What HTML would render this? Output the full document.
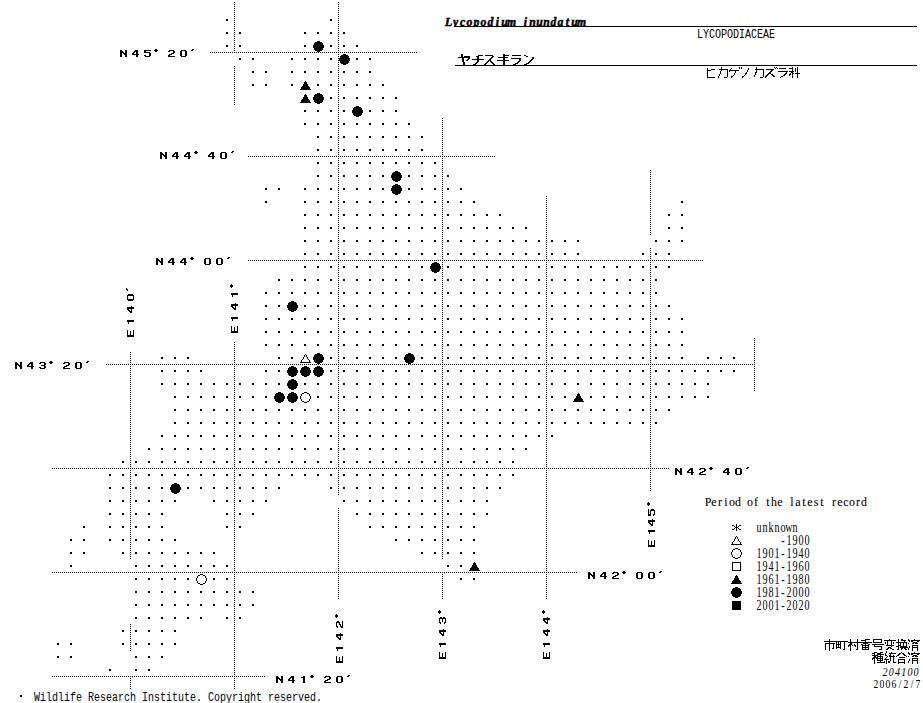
<!DOCTYPE html>
<html><head><meta charset="utf-8"><style>
html,body{margin:0;padding:0;background:#fff;overflow:hidden;width:923px;height:703px;}
svg{display:block;}

</style></head><body>
<svg width="923" height="703" viewBox="0 0 923 703" shape-rendering="crispEdges">
<rect width="923" height="703" fill="#fff"/>
<path d="M210 52h1v1h-1zM212 52h1v1h-1zM214 52h1v1h-1zM216 52h1v1h-1zM218 52h1v1h-1zM220 52h1v1h-1zM222 52h1v1h-1zM224 52h1v1h-1zM226 52h1v1h-1zM228 52h1v1h-1zM230 52h1v1h-1zM232 52h1v1h-1zM234 52h1v1h-1zM236 52h1v1h-1zM238 52h1v1h-1zM240 52h1v1h-1zM242 52h1v1h-1zM244 52h1v1h-1zM246 52h1v1h-1zM248 52h1v1h-1zM250 52h1v1h-1zM252 52h1v1h-1zM254 52h1v1h-1zM256 52h1v1h-1zM258 52h1v1h-1zM260 52h1v1h-1zM262 52h1v1h-1zM264 52h1v1h-1zM266 52h1v1h-1zM268 52h1v1h-1zM270 52h1v1h-1zM272 52h1v1h-1zM274 52h1v1h-1zM276 52h1v1h-1zM278 52h1v1h-1zM280 52h1v1h-1zM282 52h1v1h-1zM284 52h1v1h-1zM286 52h1v1h-1zM288 52h1v1h-1zM290 52h1v1h-1zM292 52h1v1h-1zM294 52h1v1h-1zM296 52h1v1h-1zM298 52h1v1h-1zM300 52h1v1h-1zM302 52h1v1h-1zM304 52h1v1h-1zM306 52h1v1h-1zM308 52h1v1h-1zM310 52h1v1h-1zM312 52h1v1h-1zM314 52h1v1h-1zM316 52h1v1h-1zM318 52h1v1h-1zM320 52h1v1h-1zM322 52h1v1h-1zM324 52h1v1h-1zM326 52h1v1h-1zM328 52h1v1h-1zM330 52h1v1h-1zM332 52h1v1h-1zM334 52h1v1h-1zM336 52h1v1h-1zM338 52h1v1h-1zM340 52h1v1h-1zM342 52h1v1h-1zM344 52h1v1h-1zM346 52h1v1h-1zM348 52h1v1h-1zM350 52h1v1h-1zM352 52h1v1h-1zM354 52h1v1h-1zM356 52h1v1h-1zM358 52h1v1h-1zM360 52h1v1h-1zM362 52h1v1h-1zM364 52h1v1h-1zM366 52h1v1h-1zM368 52h1v1h-1zM370 52h1v1h-1zM372 52h1v1h-1zM374 52h1v1h-1zM376 52h1v1h-1zM378 52h1v1h-1zM380 52h1v1h-1zM382 52h1v1h-1zM384 52h1v1h-1zM386 52h1v1h-1zM388 52h1v1h-1zM390 52h1v1h-1zM392 52h1v1h-1zM394 52h1v1h-1zM396 52h1v1h-1zM398 52h1v1h-1zM400 52h1v1h-1zM402 52h1v1h-1zM404 52h1v1h-1zM406 52h1v1h-1zM408 52h1v1h-1zM410 52h1v1h-1zM412 52h1v1h-1zM414 52h1v1h-1zM416 52h1v1h-1zM248 156h1v1h-1zM250 156h1v1h-1zM252 156h1v1h-1zM254 156h1v1h-1zM256 156h1v1h-1zM258 156h1v1h-1zM260 156h1v1h-1zM262 156h1v1h-1zM264 156h1v1h-1zM266 156h1v1h-1zM268 156h1v1h-1zM270 156h1v1h-1zM272 156h1v1h-1zM274 156h1v1h-1zM276 156h1v1h-1zM278 156h1v1h-1zM280 156h1v1h-1zM282 156h1v1h-1zM284 156h1v1h-1zM286 156h1v1h-1zM288 156h1v1h-1zM290 156h1v1h-1zM292 156h1v1h-1zM294 156h1v1h-1zM296 156h1v1h-1zM298 156h1v1h-1zM300 156h1v1h-1zM302 156h1v1h-1zM304 156h1v1h-1zM306 156h1v1h-1zM308 156h1v1h-1zM310 156h1v1h-1zM312 156h1v1h-1zM314 156h1v1h-1zM316 156h1v1h-1zM318 156h1v1h-1zM320 156h1v1h-1zM322 156h1v1h-1zM324 156h1v1h-1zM326 156h1v1h-1zM328 156h1v1h-1zM330 156h1v1h-1zM332 156h1v1h-1zM334 156h1v1h-1zM336 156h1v1h-1zM338 156h1v1h-1zM340 156h1v1h-1zM342 156h1v1h-1zM344 156h1v1h-1zM346 156h1v1h-1zM348 156h1v1h-1zM350 156h1v1h-1zM352 156h1v1h-1zM354 156h1v1h-1zM356 156h1v1h-1zM358 156h1v1h-1zM360 156h1v1h-1zM362 156h1v1h-1zM364 156h1v1h-1zM366 156h1v1h-1zM368 156h1v1h-1zM370 156h1v1h-1zM372 156h1v1h-1zM374 156h1v1h-1zM376 156h1v1h-1zM378 156h1v1h-1zM380 156h1v1h-1zM382 156h1v1h-1zM384 156h1v1h-1zM386 156h1v1h-1zM388 156h1v1h-1zM390 156h1v1h-1zM392 156h1v1h-1zM394 156h1v1h-1zM396 156h1v1h-1zM398 156h1v1h-1zM400 156h1v1h-1zM402 156h1v1h-1zM404 156h1v1h-1zM406 156h1v1h-1zM408 156h1v1h-1zM410 156h1v1h-1zM412 156h1v1h-1zM414 156h1v1h-1zM416 156h1v1h-1zM418 156h1v1h-1zM420 156h1v1h-1zM422 156h1v1h-1zM424 156h1v1h-1zM426 156h1v1h-1zM428 156h1v1h-1zM430 156h1v1h-1zM432 156h1v1h-1zM434 156h1v1h-1zM436 156h1v1h-1zM438 156h1v1h-1zM440 156h1v1h-1zM442 156h1v1h-1zM444 156h1v1h-1zM446 156h1v1h-1zM448 156h1v1h-1zM450 156h1v1h-1zM452 156h1v1h-1zM454 156h1v1h-1zM456 156h1v1h-1zM458 156h1v1h-1zM460 156h1v1h-1zM462 156h1v1h-1zM464 156h1v1h-1zM466 156h1v1h-1zM468 156h1v1h-1zM470 156h1v1h-1zM472 156h1v1h-1zM474 156h1v1h-1zM476 156h1v1h-1zM478 156h1v1h-1zM480 156h1v1h-1zM482 156h1v1h-1zM484 156h1v1h-1zM486 156h1v1h-1zM488 156h1v1h-1zM490 156h1v1h-1zM492 156h1v1h-1zM494 156h1v1h-1zM248 260h1v1h-1zM250 260h1v1h-1zM252 260h1v1h-1zM254 260h1v1h-1zM256 260h1v1h-1zM258 260h1v1h-1zM260 260h1v1h-1zM262 260h1v1h-1zM264 260h1v1h-1zM266 260h1v1h-1zM268 260h1v1h-1zM270 260h1v1h-1zM272 260h1v1h-1zM274 260h1v1h-1zM276 260h1v1h-1zM278 260h1v1h-1zM280 260h1v1h-1zM282 260h1v1h-1zM284 260h1v1h-1zM286 260h1v1h-1zM288 260h1v1h-1zM290 260h1v1h-1zM292 260h1v1h-1zM294 260h1v1h-1zM296 260h1v1h-1zM298 260h1v1h-1zM300 260h1v1h-1zM302 260h1v1h-1zM304 260h1v1h-1zM306 260h1v1h-1zM308 260h1v1h-1zM310 260h1v1h-1zM312 260h1v1h-1zM314 260h1v1h-1zM316 260h1v1h-1zM318 260h1v1h-1zM320 260h1v1h-1zM322 260h1v1h-1zM324 260h1v1h-1zM326 260h1v1h-1zM328 260h1v1h-1zM330 260h1v1h-1zM332 260h1v1h-1zM334 260h1v1h-1zM336 260h1v1h-1zM338 260h1v1h-1zM340 260h1v1h-1zM342 260h1v1h-1zM344 260h1v1h-1zM346 260h1v1h-1zM348 260h1v1h-1zM350 260h1v1h-1zM352 260h1v1h-1zM354 260h1v1h-1zM356 260h1v1h-1zM358 260h1v1h-1zM360 260h1v1h-1zM362 260h1v1h-1zM364 260h1v1h-1zM366 260h1v1h-1zM368 260h1v1h-1zM370 260h1v1h-1zM372 260h1v1h-1zM374 260h1v1h-1zM376 260h1v1h-1zM378 260h1v1h-1zM380 260h1v1h-1zM382 260h1v1h-1zM384 260h1v1h-1zM386 260h1v1h-1zM388 260h1v1h-1zM390 260h1v1h-1zM392 260h1v1h-1zM394 260h1v1h-1zM396 260h1v1h-1zM398 260h1v1h-1zM400 260h1v1h-1zM402 260h1v1h-1zM404 260h1v1h-1zM406 260h1v1h-1zM408 260h1v1h-1zM410 260h1v1h-1zM412 260h1v1h-1zM414 260h1v1h-1zM416 260h1v1h-1zM418 260h1v1h-1zM420 260h1v1h-1zM422 260h1v1h-1zM424 260h1v1h-1zM426 260h1v1h-1zM428 260h1v1h-1zM430 260h1v1h-1zM432 260h1v1h-1zM434 260h1v1h-1zM436 260h1v1h-1zM438 260h1v1h-1zM440 260h1v1h-1zM442 260h1v1h-1zM444 260h1v1h-1zM446 260h1v1h-1zM448 260h1v1h-1zM450 260h1v1h-1zM452 260h1v1h-1zM454 260h1v1h-1zM456 260h1v1h-1zM458 260h1v1h-1zM460 260h1v1h-1zM462 260h1v1h-1zM464 260h1v1h-1zM466 260h1v1h-1zM468 260h1v1h-1zM470 260h1v1h-1zM472 260h1v1h-1zM474 260h1v1h-1zM476 260h1v1h-1zM478 260h1v1h-1zM480 260h1v1h-1zM482 260h1v1h-1zM484 260h1v1h-1zM486 260h1v1h-1zM488 260h1v1h-1zM490 260h1v1h-1zM492 260h1v1h-1zM494 260h1v1h-1zM496 260h1v1h-1zM498 260h1v1h-1zM500 260h1v1h-1zM502 260h1v1h-1zM504 260h1v1h-1zM506 260h1v1h-1zM508 260h1v1h-1zM510 260h1v1h-1zM512 260h1v1h-1zM514 260h1v1h-1zM516 260h1v1h-1zM518 260h1v1h-1zM520 260h1v1h-1zM522 260h1v1h-1zM524 260h1v1h-1zM526 260h1v1h-1zM528 260h1v1h-1zM530 260h1v1h-1zM532 260h1v1h-1zM534 260h1v1h-1zM536 260h1v1h-1zM538 260h1v1h-1zM540 260h1v1h-1zM542 260h1v1h-1zM544 260h1v1h-1zM546 260h1v1h-1zM548 260h1v1h-1zM550 260h1v1h-1zM552 260h1v1h-1zM554 260h1v1h-1zM556 260h1v1h-1zM558 260h1v1h-1zM560 260h1v1h-1zM562 260h1v1h-1zM564 260h1v1h-1zM566 260h1v1h-1zM568 260h1v1h-1zM570 260h1v1h-1zM572 260h1v1h-1zM574 260h1v1h-1zM576 260h1v1h-1zM578 260h1v1h-1zM580 260h1v1h-1zM582 260h1v1h-1zM584 260h1v1h-1zM586 260h1v1h-1zM588 260h1v1h-1zM590 260h1v1h-1zM592 260h1v1h-1zM594 260h1v1h-1zM596 260h1v1h-1zM598 260h1v1h-1zM600 260h1v1h-1zM602 260h1v1h-1zM604 260h1v1h-1zM606 260h1v1h-1zM608 260h1v1h-1zM610 260h1v1h-1zM612 260h1v1h-1zM614 260h1v1h-1zM616 260h1v1h-1zM618 260h1v1h-1zM620 260h1v1h-1zM622 260h1v1h-1zM624 260h1v1h-1zM626 260h1v1h-1zM628 260h1v1h-1zM630 260h1v1h-1zM632 260h1v1h-1zM634 260h1v1h-1zM636 260h1v1h-1zM638 260h1v1h-1zM640 260h1v1h-1zM642 260h1v1h-1zM644 260h1v1h-1zM646 260h1v1h-1zM648 260h1v1h-1zM650 260h1v1h-1zM652 260h1v1h-1zM654 260h1v1h-1zM656 260h1v1h-1zM658 260h1v1h-1zM660 260h1v1h-1zM662 260h1v1h-1zM664 260h1v1h-1zM666 260h1v1h-1zM668 260h1v1h-1zM670 260h1v1h-1zM672 260h1v1h-1zM674 260h1v1h-1zM676 260h1v1h-1zM678 260h1v1h-1zM680 260h1v1h-1zM682 260h1v1h-1zM684 260h1v1h-1zM686 260h1v1h-1zM688 260h1v1h-1zM690 260h1v1h-1zM692 260h1v1h-1zM694 260h1v1h-1zM696 260h1v1h-1zM698 260h1v1h-1zM700 260h1v1h-1zM702 260h1v1h-1zM106 364h1v1h-1zM108 364h1v1h-1zM110 364h1v1h-1zM112 364h1v1h-1zM114 364h1v1h-1zM116 364h1v1h-1zM118 364h1v1h-1zM120 364h1v1h-1zM122 364h1v1h-1zM124 364h1v1h-1zM126 364h1v1h-1zM128 364h1v1h-1zM130 364h1v1h-1zM132 364h1v1h-1zM134 364h1v1h-1zM136 364h1v1h-1zM138 364h1v1h-1zM140 364h1v1h-1zM142 364h1v1h-1zM144 364h1v1h-1zM146 364h1v1h-1zM148 364h1v1h-1zM150 364h1v1h-1zM152 364h1v1h-1zM154 364h1v1h-1zM156 364h1v1h-1zM158 364h1v1h-1zM160 364h1v1h-1zM162 364h1v1h-1zM164 364h1v1h-1zM166 364h1v1h-1zM168 364h1v1h-1zM170 364h1v1h-1zM172 364h1v1h-1zM174 364h1v1h-1zM176 364h1v1h-1zM178 364h1v1h-1zM180 364h1v1h-1zM182 364h1v1h-1zM184 364h1v1h-1zM186 364h1v1h-1zM188 364h1v1h-1zM190 364h1v1h-1zM192 364h1v1h-1zM194 364h1v1h-1zM196 364h1v1h-1zM198 364h1v1h-1zM200 364h1v1h-1zM202 364h1v1h-1zM204 364h1v1h-1zM206 364h1v1h-1zM208 364h1v1h-1zM210 364h1v1h-1zM212 364h1v1h-1zM214 364h1v1h-1zM216 364h1v1h-1zM218 364h1v1h-1zM220 364h1v1h-1zM222 364h1v1h-1zM224 364h1v1h-1zM226 364h1v1h-1zM228 364h1v1h-1zM230 364h1v1h-1zM232 364h1v1h-1zM234 364h1v1h-1zM236 364h1v1h-1zM238 364h1v1h-1zM240 364h1v1h-1zM242 364h1v1h-1zM244 364h1v1h-1zM246 364h1v1h-1zM248 364h1v1h-1zM250 364h1v1h-1zM252 364h1v1h-1zM254 364h1v1h-1zM256 364h1v1h-1zM258 364h1v1h-1zM260 364h1v1h-1zM262 364h1v1h-1zM264 364h1v1h-1zM266 364h1v1h-1zM268 364h1v1h-1zM270 364h1v1h-1zM272 364h1v1h-1zM274 364h1v1h-1zM276 364h1v1h-1zM278 364h1v1h-1zM280 364h1v1h-1zM282 364h1v1h-1zM284 364h1v1h-1zM286 364h1v1h-1zM288 364h1v1h-1zM290 364h1v1h-1zM292 364h1v1h-1zM294 364h1v1h-1zM296 364h1v1h-1zM298 364h1v1h-1zM300 364h1v1h-1zM302 364h1v1h-1zM304 364h1v1h-1zM306 364h1v1h-1zM308 364h1v1h-1zM310 364h1v1h-1zM312 364h1v1h-1zM314 364h1v1h-1zM316 364h1v1h-1zM318 364h1v1h-1zM320 364h1v1h-1zM322 364h1v1h-1zM324 364h1v1h-1zM326 364h1v1h-1zM328 364h1v1h-1zM330 364h1v1h-1zM332 364h1v1h-1zM334 364h1v1h-1zM336 364h1v1h-1zM338 364h1v1h-1zM340 364h1v1h-1zM342 364h1v1h-1zM344 364h1v1h-1zM346 364h1v1h-1zM348 364h1v1h-1zM350 364h1v1h-1zM352 364h1v1h-1zM354 364h1v1h-1zM356 364h1v1h-1zM358 364h1v1h-1zM360 364h1v1h-1zM362 364h1v1h-1zM364 364h1v1h-1zM366 364h1v1h-1zM368 364h1v1h-1zM370 364h1v1h-1zM372 364h1v1h-1zM374 364h1v1h-1zM376 364h1v1h-1zM378 364h1v1h-1zM380 364h1v1h-1zM382 364h1v1h-1zM384 364h1v1h-1zM386 364h1v1h-1zM388 364h1v1h-1zM390 364h1v1h-1zM392 364h1v1h-1zM394 364h1v1h-1zM396 364h1v1h-1zM398 364h1v1h-1zM400 364h1v1h-1zM402 364h1v1h-1zM404 364h1v1h-1zM406 364h1v1h-1zM408 364h1v1h-1zM410 364h1v1h-1zM412 364h1v1h-1zM414 364h1v1h-1zM416 364h1v1h-1zM418 364h1v1h-1zM420 364h1v1h-1zM422 364h1v1h-1zM424 364h1v1h-1zM426 364h1v1h-1zM428 364h1v1h-1zM430 364h1v1h-1zM432 364h1v1h-1zM434 364h1v1h-1zM436 364h1v1h-1zM438 364h1v1h-1zM440 364h1v1h-1zM442 364h1v1h-1zM444 364h1v1h-1zM446 364h1v1h-1zM448 364h1v1h-1zM450 364h1v1h-1zM452 364h1v1h-1zM454 364h1v1h-1zM456 364h1v1h-1zM458 364h1v1h-1zM460 364h1v1h-1zM462 364h1v1h-1zM464 364h1v1h-1zM466 364h1v1h-1zM468 364h1v1h-1zM470 364h1v1h-1zM472 364h1v1h-1zM474 364h1v1h-1zM476 364h1v1h-1zM478 364h1v1h-1zM480 364h1v1h-1zM482 364h1v1h-1zM484 364h1v1h-1zM486 364h1v1h-1zM488 364h1v1h-1zM490 364h1v1h-1zM492 364h1v1h-1zM494 364h1v1h-1zM496 364h1v1h-1zM498 364h1v1h-1zM500 364h1v1h-1zM502 364h1v1h-1zM504 364h1v1h-1zM506 364h1v1h-1zM508 364h1v1h-1zM510 364h1v1h-1zM512 364h1v1h-1zM514 364h1v1h-1zM516 364h1v1h-1zM518 364h1v1h-1zM520 364h1v1h-1zM522 364h1v1h-1zM524 364h1v1h-1zM526 364h1v1h-1zM528 364h1v1h-1zM530 364h1v1h-1zM532 364h1v1h-1zM534 364h1v1h-1zM536 364h1v1h-1zM538 364h1v1h-1zM540 364h1v1h-1zM542 364h1v1h-1zM544 364h1v1h-1zM546 364h1v1h-1zM548 364h1v1h-1zM550 364h1v1h-1zM552 364h1v1h-1zM554 364h1v1h-1zM556 364h1v1h-1zM558 364h1v1h-1zM560 364h1v1h-1zM562 364h1v1h-1zM564 364h1v1h-1zM566 364h1v1h-1zM568 364h1v1h-1zM570 364h1v1h-1zM572 364h1v1h-1zM574 364h1v1h-1zM576 364h1v1h-1zM578 364h1v1h-1zM580 364h1v1h-1zM582 364h1v1h-1zM584 364h1v1h-1zM586 364h1v1h-1zM588 364h1v1h-1zM590 364h1v1h-1zM592 364h1v1h-1zM594 364h1v1h-1zM596 364h1v1h-1zM598 364h1v1h-1zM600 364h1v1h-1zM602 364h1v1h-1zM604 364h1v1h-1zM606 364h1v1h-1zM608 364h1v1h-1zM610 364h1v1h-1zM612 364h1v1h-1zM614 364h1v1h-1zM616 364h1v1h-1zM618 364h1v1h-1zM620 364h1v1h-1zM622 364h1v1h-1zM624 364h1v1h-1zM626 364h1v1h-1zM628 364h1v1h-1zM630 364h1v1h-1zM632 364h1v1h-1zM634 364h1v1h-1zM636 364h1v1h-1zM638 364h1v1h-1zM640 364h1v1h-1zM642 364h1v1h-1zM644 364h1v1h-1zM646 364h1v1h-1zM648 364h1v1h-1zM650 364h1v1h-1zM652 364h1v1h-1zM654 364h1v1h-1zM656 364h1v1h-1zM658 364h1v1h-1zM660 364h1v1h-1zM662 364h1v1h-1zM664 364h1v1h-1zM666 364h1v1h-1zM668 364h1v1h-1zM670 364h1v1h-1zM672 364h1v1h-1zM674 364h1v1h-1zM676 364h1v1h-1zM678 364h1v1h-1zM680 364h1v1h-1zM682 364h1v1h-1zM684 364h1v1h-1zM686 364h1v1h-1zM688 364h1v1h-1zM690 364h1v1h-1zM692 364h1v1h-1zM694 364h1v1h-1zM696 364h1v1h-1zM698 364h1v1h-1zM700 364h1v1h-1zM702 364h1v1h-1zM704 364h1v1h-1zM706 364h1v1h-1zM708 364h1v1h-1zM710 364h1v1h-1zM712 364h1v1h-1zM714 364h1v1h-1zM716 364h1v1h-1zM718 364h1v1h-1zM720 364h1v1h-1zM722 364h1v1h-1zM724 364h1v1h-1zM726 364h1v1h-1zM728 364h1v1h-1zM730 364h1v1h-1zM732 364h1v1h-1zM734 364h1v1h-1zM736 364h1v1h-1zM738 364h1v1h-1zM740 364h1v1h-1zM742 364h1v1h-1zM744 364h1v1h-1zM746 364h1v1h-1zM748 364h1v1h-1zM750 364h1v1h-1zM752 364h1v1h-1zM754 364h1v1h-1zM52 468h1v1h-1zM54 468h1v1h-1zM56 468h1v1h-1zM58 468h1v1h-1zM60 468h1v1h-1zM62 468h1v1h-1zM64 468h1v1h-1zM66 468h1v1h-1zM68 468h1v1h-1zM70 468h1v1h-1zM72 468h1v1h-1zM74 468h1v1h-1zM76 468h1v1h-1zM78 468h1v1h-1zM80 468h1v1h-1zM82 468h1v1h-1zM84 468h1v1h-1zM86 468h1v1h-1zM88 468h1v1h-1zM90 468h1v1h-1zM92 468h1v1h-1zM94 468h1v1h-1zM96 468h1v1h-1zM98 468h1v1h-1zM100 468h1v1h-1zM102 468h1v1h-1zM104 468h1v1h-1zM106 468h1v1h-1zM108 468h1v1h-1zM110 468h1v1h-1zM112 468h1v1h-1zM114 468h1v1h-1zM116 468h1v1h-1zM118 468h1v1h-1zM120 468h1v1h-1zM122 468h1v1h-1zM124 468h1v1h-1zM126 468h1v1h-1zM128 468h1v1h-1zM130 468h1v1h-1zM132 468h1v1h-1zM134 468h1v1h-1zM136 468h1v1h-1zM138 468h1v1h-1zM140 468h1v1h-1zM142 468h1v1h-1zM144 468h1v1h-1zM146 468h1v1h-1zM148 468h1v1h-1zM150 468h1v1h-1zM152 468h1v1h-1zM154 468h1v1h-1zM156 468h1v1h-1zM158 468h1v1h-1zM160 468h1v1h-1zM162 468h1v1h-1zM164 468h1v1h-1zM166 468h1v1h-1zM168 468h1v1h-1zM170 468h1v1h-1zM172 468h1v1h-1zM174 468h1v1h-1zM176 468h1v1h-1zM178 468h1v1h-1zM180 468h1v1h-1zM182 468h1v1h-1zM184 468h1v1h-1zM186 468h1v1h-1zM188 468h1v1h-1zM190 468h1v1h-1zM192 468h1v1h-1zM194 468h1v1h-1zM196 468h1v1h-1zM198 468h1v1h-1zM200 468h1v1h-1zM202 468h1v1h-1zM204 468h1v1h-1zM206 468h1v1h-1zM208 468h1v1h-1zM210 468h1v1h-1zM212 468h1v1h-1zM214 468h1v1h-1zM216 468h1v1h-1zM218 468h1v1h-1zM220 468h1v1h-1zM222 468h1v1h-1zM224 468h1v1h-1zM226 468h1v1h-1zM228 468h1v1h-1zM230 468h1v1h-1zM232 468h1v1h-1zM234 468h1v1h-1zM236 468h1v1h-1zM238 468h1v1h-1zM240 468h1v1h-1zM242 468h1v1h-1zM244 468h1v1h-1zM246 468h1v1h-1zM248 468h1v1h-1zM250 468h1v1h-1zM252 468h1v1h-1zM254 468h1v1h-1zM256 468h1v1h-1zM258 468h1v1h-1zM260 468h1v1h-1zM262 468h1v1h-1zM264 468h1v1h-1zM266 468h1v1h-1zM268 468h1v1h-1zM270 468h1v1h-1zM272 468h1v1h-1zM274 468h1v1h-1zM276 468h1v1h-1zM278 468h1v1h-1zM280 468h1v1h-1zM282 468h1v1h-1zM284 468h1v1h-1zM286 468h1v1h-1zM288 468h1v1h-1zM290 468h1v1h-1zM292 468h1v1h-1zM294 468h1v1h-1zM296 468h1v1h-1zM298 468h1v1h-1zM300 468h1v1h-1zM302 468h1v1h-1zM304 468h1v1h-1zM306 468h1v1h-1zM308 468h1v1h-1zM310 468h1v1h-1zM312 468h1v1h-1zM314 468h1v1h-1zM316 468h1v1h-1zM318 468h1v1h-1zM320 468h1v1h-1zM322 468h1v1h-1zM324 468h1v1h-1zM326 468h1v1h-1zM328 468h1v1h-1zM330 468h1v1h-1zM332 468h1v1h-1zM334 468h1v1h-1zM336 468h1v1h-1zM338 468h1v1h-1zM340 468h1v1h-1zM342 468h1v1h-1zM344 468h1v1h-1zM346 468h1v1h-1zM348 468h1v1h-1zM350 468h1v1h-1zM352 468h1v1h-1zM354 468h1v1h-1zM356 468h1v1h-1zM358 468h1v1h-1zM360 468h1v1h-1zM362 468h1v1h-1zM364 468h1v1h-1zM366 468h1v1h-1zM368 468h1v1h-1zM370 468h1v1h-1zM372 468h1v1h-1zM374 468h1v1h-1zM376 468h1v1h-1zM378 468h1v1h-1zM380 468h1v1h-1zM382 468h1v1h-1zM384 468h1v1h-1zM386 468h1v1h-1zM388 468h1v1h-1zM390 468h1v1h-1zM392 468h1v1h-1zM394 468h1v1h-1zM396 468h1v1h-1zM398 468h1v1h-1zM400 468h1v1h-1zM402 468h1v1h-1zM404 468h1v1h-1zM406 468h1v1h-1zM408 468h1v1h-1zM410 468h1v1h-1zM412 468h1v1h-1zM414 468h1v1h-1zM416 468h1v1h-1zM418 468h1v1h-1zM420 468h1v1h-1zM422 468h1v1h-1zM424 468h1v1h-1zM426 468h1v1h-1zM428 468h1v1h-1zM430 468h1v1h-1zM432 468h1v1h-1zM434 468h1v1h-1zM436 468h1v1h-1zM438 468h1v1h-1zM440 468h1v1h-1zM442 468h1v1h-1zM444 468h1v1h-1zM446 468h1v1h-1zM448 468h1v1h-1zM450 468h1v1h-1zM452 468h1v1h-1zM454 468h1v1h-1zM456 468h1v1h-1zM458 468h1v1h-1zM460 468h1v1h-1zM462 468h1v1h-1zM464 468h1v1h-1zM466 468h1v1h-1zM468 468h1v1h-1zM470 468h1v1h-1zM472 468h1v1h-1zM474 468h1v1h-1zM476 468h1v1h-1zM478 468h1v1h-1zM480 468h1v1h-1zM482 468h1v1h-1zM484 468h1v1h-1zM486 468h1v1h-1zM488 468h1v1h-1zM490 468h1v1h-1zM492 468h1v1h-1zM494 468h1v1h-1zM496 468h1v1h-1zM498 468h1v1h-1zM500 468h1v1h-1zM502 468h1v1h-1zM504 468h1v1h-1zM506 468h1v1h-1zM508 468h1v1h-1zM510 468h1v1h-1zM512 468h1v1h-1zM514 468h1v1h-1zM516 468h1v1h-1zM518 468h1v1h-1zM520 468h1v1h-1zM522 468h1v1h-1zM524 468h1v1h-1zM526 468h1v1h-1zM528 468h1v1h-1zM530 468h1v1h-1zM532 468h1v1h-1zM534 468h1v1h-1zM536 468h1v1h-1zM538 468h1v1h-1zM540 468h1v1h-1zM542 468h1v1h-1zM544 468h1v1h-1zM546 468h1v1h-1zM548 468h1v1h-1zM550 468h1v1h-1zM552 468h1v1h-1zM554 468h1v1h-1zM556 468h1v1h-1zM558 468h1v1h-1zM560 468h1v1h-1zM562 468h1v1h-1zM564 468h1v1h-1zM566 468h1v1h-1zM568 468h1v1h-1zM570 468h1v1h-1zM572 468h1v1h-1zM574 468h1v1h-1zM576 468h1v1h-1zM578 468h1v1h-1zM580 468h1v1h-1zM582 468h1v1h-1zM584 468h1v1h-1zM586 468h1v1h-1zM588 468h1v1h-1zM590 468h1v1h-1zM592 468h1v1h-1zM594 468h1v1h-1zM596 468h1v1h-1zM598 468h1v1h-1zM600 468h1v1h-1zM602 468h1v1h-1zM604 468h1v1h-1zM606 468h1v1h-1zM608 468h1v1h-1zM610 468h1v1h-1zM612 468h1v1h-1zM614 468h1v1h-1zM616 468h1v1h-1zM618 468h1v1h-1zM620 468h1v1h-1zM622 468h1v1h-1zM624 468h1v1h-1zM626 468h1v1h-1zM628 468h1v1h-1zM630 468h1v1h-1zM632 468h1v1h-1zM634 468h1v1h-1zM636 468h1v1h-1zM638 468h1v1h-1zM640 468h1v1h-1zM642 468h1v1h-1zM644 468h1v1h-1zM646 468h1v1h-1zM648 468h1v1h-1zM650 468h1v1h-1zM652 468h1v1h-1zM654 468h1v1h-1zM656 468h1v1h-1zM658 468h1v1h-1zM660 468h1v1h-1zM662 468h1v1h-1zM664 468h1v1h-1zM666 468h1v1h-1zM668 468h1v1h-1zM52 572h1v1h-1zM54 572h1v1h-1zM56 572h1v1h-1zM58 572h1v1h-1zM60 572h1v1h-1zM62 572h1v1h-1zM64 572h1v1h-1zM66 572h1v1h-1zM68 572h1v1h-1zM70 572h1v1h-1zM72 572h1v1h-1zM74 572h1v1h-1zM76 572h1v1h-1zM78 572h1v1h-1zM80 572h1v1h-1zM82 572h1v1h-1zM84 572h1v1h-1zM86 572h1v1h-1zM88 572h1v1h-1zM90 572h1v1h-1zM92 572h1v1h-1zM94 572h1v1h-1zM96 572h1v1h-1zM98 572h1v1h-1zM100 572h1v1h-1zM102 572h1v1h-1zM104 572h1v1h-1zM106 572h1v1h-1zM108 572h1v1h-1zM110 572h1v1h-1zM112 572h1v1h-1zM114 572h1v1h-1zM116 572h1v1h-1zM118 572h1v1h-1zM120 572h1v1h-1zM122 572h1v1h-1zM124 572h1v1h-1zM126 572h1v1h-1zM128 572h1v1h-1zM130 572h1v1h-1zM132 572h1v1h-1zM134 572h1v1h-1zM136 572h1v1h-1zM138 572h1v1h-1zM140 572h1v1h-1zM142 572h1v1h-1zM144 572h1v1h-1zM146 572h1v1h-1zM148 572h1v1h-1zM150 572h1v1h-1zM152 572h1v1h-1zM154 572h1v1h-1zM156 572h1v1h-1zM158 572h1v1h-1zM160 572h1v1h-1zM162 572h1v1h-1zM164 572h1v1h-1zM166 572h1v1h-1zM168 572h1v1h-1zM170 572h1v1h-1zM172 572h1v1h-1zM174 572h1v1h-1zM176 572h1v1h-1zM178 572h1v1h-1zM180 572h1v1h-1zM182 572h1v1h-1zM184 572h1v1h-1zM186 572h1v1h-1zM188 572h1v1h-1zM190 572h1v1h-1zM192 572h1v1h-1zM194 572h1v1h-1zM196 572h1v1h-1zM198 572h1v1h-1zM200 572h1v1h-1zM202 572h1v1h-1zM204 572h1v1h-1zM206 572h1v1h-1zM208 572h1v1h-1zM210 572h1v1h-1zM212 572h1v1h-1zM214 572h1v1h-1zM216 572h1v1h-1zM218 572h1v1h-1zM220 572h1v1h-1zM222 572h1v1h-1zM224 572h1v1h-1zM226 572h1v1h-1zM228 572h1v1h-1zM230 572h1v1h-1zM232 572h1v1h-1zM234 572h1v1h-1zM236 572h1v1h-1zM238 572h1v1h-1zM240 572h1v1h-1zM242 572h1v1h-1zM244 572h1v1h-1zM246 572h1v1h-1zM248 572h1v1h-1zM250 572h1v1h-1zM252 572h1v1h-1zM254 572h1v1h-1zM256 572h1v1h-1zM258 572h1v1h-1zM260 572h1v1h-1zM262 572h1v1h-1zM264 572h1v1h-1zM266 572h1v1h-1zM268 572h1v1h-1zM270 572h1v1h-1zM272 572h1v1h-1zM274 572h1v1h-1zM276 572h1v1h-1zM278 572h1v1h-1zM280 572h1v1h-1zM282 572h1v1h-1zM284 572h1v1h-1zM286 572h1v1h-1zM288 572h1v1h-1zM290 572h1v1h-1zM292 572h1v1h-1zM294 572h1v1h-1zM296 572h1v1h-1zM298 572h1v1h-1zM300 572h1v1h-1zM302 572h1v1h-1zM304 572h1v1h-1zM306 572h1v1h-1zM308 572h1v1h-1zM310 572h1v1h-1zM312 572h1v1h-1zM314 572h1v1h-1zM316 572h1v1h-1zM318 572h1v1h-1zM320 572h1v1h-1zM322 572h1v1h-1zM324 572h1v1h-1zM326 572h1v1h-1zM328 572h1v1h-1zM330 572h1v1h-1zM332 572h1v1h-1zM334 572h1v1h-1zM336 572h1v1h-1zM338 572h1v1h-1zM340 572h1v1h-1zM342 572h1v1h-1zM344 572h1v1h-1zM346 572h1v1h-1zM348 572h1v1h-1zM350 572h1v1h-1zM352 572h1v1h-1zM354 572h1v1h-1zM356 572h1v1h-1zM358 572h1v1h-1zM360 572h1v1h-1zM362 572h1v1h-1zM364 572h1v1h-1zM366 572h1v1h-1zM368 572h1v1h-1zM370 572h1v1h-1zM372 572h1v1h-1zM374 572h1v1h-1zM376 572h1v1h-1zM378 572h1v1h-1zM380 572h1v1h-1zM382 572h1v1h-1zM384 572h1v1h-1zM386 572h1v1h-1zM388 572h1v1h-1zM390 572h1v1h-1zM392 572h1v1h-1zM394 572h1v1h-1zM396 572h1v1h-1zM398 572h1v1h-1zM400 572h1v1h-1zM402 572h1v1h-1zM404 572h1v1h-1zM406 572h1v1h-1zM408 572h1v1h-1zM410 572h1v1h-1zM412 572h1v1h-1zM414 572h1v1h-1zM416 572h1v1h-1zM418 572h1v1h-1zM420 572h1v1h-1zM422 572h1v1h-1zM424 572h1v1h-1zM426 572h1v1h-1zM428 572h1v1h-1zM430 572h1v1h-1zM432 572h1v1h-1zM434 572h1v1h-1zM436 572h1v1h-1zM438 572h1v1h-1zM440 572h1v1h-1zM442 572h1v1h-1zM444 572h1v1h-1zM446 572h1v1h-1zM448 572h1v1h-1zM450 572h1v1h-1zM452 572h1v1h-1zM454 572h1v1h-1zM456 572h1v1h-1zM458 572h1v1h-1zM460 572h1v1h-1zM462 572h1v1h-1zM464 572h1v1h-1zM466 572h1v1h-1zM468 572h1v1h-1zM470 572h1v1h-1zM472 572h1v1h-1zM474 572h1v1h-1zM476 572h1v1h-1zM478 572h1v1h-1zM480 572h1v1h-1zM482 572h1v1h-1zM484 572h1v1h-1zM486 572h1v1h-1zM488 572h1v1h-1zM490 572h1v1h-1zM492 572h1v1h-1zM494 572h1v1h-1zM496 572h1v1h-1zM498 572h1v1h-1zM500 572h1v1h-1zM502 572h1v1h-1zM504 572h1v1h-1zM506 572h1v1h-1zM508 572h1v1h-1zM510 572h1v1h-1zM512 572h1v1h-1zM514 572h1v1h-1zM516 572h1v1h-1zM518 572h1v1h-1zM520 572h1v1h-1zM522 572h1v1h-1zM524 572h1v1h-1zM526 572h1v1h-1zM528 572h1v1h-1zM530 572h1v1h-1zM532 572h1v1h-1zM534 572h1v1h-1zM536 572h1v1h-1zM538 572h1v1h-1zM540 572h1v1h-1zM542 572h1v1h-1zM544 572h1v1h-1zM546 572h1v1h-1zM548 572h1v1h-1zM550 572h1v1h-1zM552 572h1v1h-1zM554 572h1v1h-1zM556 572h1v1h-1zM558 572h1v1h-1zM560 572h1v1h-1zM562 572h1v1h-1zM564 572h1v1h-1zM566 572h1v1h-1zM568 572h1v1h-1zM570 572h1v1h-1zM572 572h1v1h-1zM574 572h1v1h-1zM576 572h1v1h-1zM52 676h1v1h-1zM54 676h1v1h-1zM56 676h1v1h-1zM58 676h1v1h-1zM60 676h1v1h-1zM62 676h1v1h-1zM64 676h1v1h-1zM66 676h1v1h-1zM68 676h1v1h-1zM70 676h1v1h-1zM72 676h1v1h-1zM74 676h1v1h-1zM76 676h1v1h-1zM78 676h1v1h-1zM80 676h1v1h-1zM82 676h1v1h-1zM84 676h1v1h-1zM86 676h1v1h-1zM88 676h1v1h-1zM90 676h1v1h-1zM92 676h1v1h-1zM94 676h1v1h-1zM96 676h1v1h-1zM98 676h1v1h-1zM100 676h1v1h-1zM102 676h1v1h-1zM104 676h1v1h-1zM106 676h1v1h-1zM108 676h1v1h-1zM110 676h1v1h-1zM112 676h1v1h-1zM114 676h1v1h-1zM116 676h1v1h-1zM118 676h1v1h-1zM120 676h1v1h-1zM122 676h1v1h-1zM124 676h1v1h-1zM126 676h1v1h-1zM128 676h1v1h-1zM130 676h1v1h-1zM132 676h1v1h-1zM134 676h1v1h-1zM136 676h1v1h-1zM138 676h1v1h-1zM140 676h1v1h-1zM142 676h1v1h-1zM144 676h1v1h-1zM146 676h1v1h-1zM148 676h1v1h-1zM150 676h1v1h-1zM152 676h1v1h-1zM154 676h1v1h-1zM156 676h1v1h-1zM158 676h1v1h-1zM160 676h1v1h-1zM162 676h1v1h-1zM164 676h1v1h-1zM166 676h1v1h-1zM168 676h1v1h-1zM170 676h1v1h-1zM172 676h1v1h-1zM174 676h1v1h-1zM176 676h1v1h-1zM178 676h1v1h-1zM180 676h1v1h-1zM182 676h1v1h-1zM184 676h1v1h-1zM186 676h1v1h-1zM188 676h1v1h-1zM190 676h1v1h-1zM192 676h1v1h-1zM194 676h1v1h-1zM196 676h1v1h-1zM198 676h1v1h-1zM200 676h1v1h-1zM202 676h1v1h-1zM204 676h1v1h-1zM206 676h1v1h-1zM208 676h1v1h-1zM210 676h1v1h-1zM212 676h1v1h-1zM214 676h1v1h-1zM216 676h1v1h-1zM218 676h1v1h-1zM220 676h1v1h-1zM222 676h1v1h-1zM224 676h1v1h-1zM226 676h1v1h-1zM228 676h1v1h-1zM230 676h1v1h-1zM232 676h1v1h-1zM234 676h1v1h-1zM236 676h1v1h-1zM238 676h1v1h-1zM240 676h1v1h-1zM242 676h1v1h-1zM244 676h1v1h-1zM246 676h1v1h-1zM248 676h1v1h-1zM250 676h1v1h-1zM252 676h1v1h-1zM254 676h1v1h-1zM256 676h1v1h-1zM258 676h1v1h-1zM260 676h1v1h-1zM262 676h1v1h-1zM264 676h1v1h-1zM130 352h1v1h-1zM130 354h1v1h-1zM130 356h1v1h-1zM130 358h1v1h-1zM130 360h1v1h-1zM130 362h1v1h-1zM130 364h1v1h-1zM130 366h1v1h-1zM130 368h1v1h-1zM130 370h1v1h-1zM130 372h1v1h-1zM130 374h1v1h-1zM130 376h1v1h-1zM130 378h1v1h-1zM130 380h1v1h-1zM130 382h1v1h-1zM130 384h1v1h-1zM130 386h1v1h-1zM130 388h1v1h-1zM130 390h1v1h-1zM130 392h1v1h-1zM130 394h1v1h-1zM130 396h1v1h-1zM130 398h1v1h-1zM130 400h1v1h-1zM130 402h1v1h-1zM130 404h1v1h-1zM130 406h1v1h-1zM130 408h1v1h-1zM130 410h1v1h-1zM130 412h1v1h-1zM130 414h1v1h-1zM130 416h1v1h-1zM130 418h1v1h-1zM130 420h1v1h-1zM130 422h1v1h-1zM130 424h1v1h-1zM130 426h1v1h-1zM130 428h1v1h-1zM130 430h1v1h-1zM130 432h1v1h-1zM130 434h1v1h-1zM130 436h1v1h-1zM130 438h1v1h-1zM130 440h1v1h-1zM130 442h1v1h-1zM130 444h1v1h-1zM130 446h1v1h-1zM130 448h1v1h-1zM130 450h1v1h-1zM130 452h1v1h-1zM130 454h1v1h-1zM130 456h1v1h-1zM130 458h1v1h-1zM130 460h1v1h-1zM130 462h1v1h-1zM130 464h1v1h-1zM130 466h1v1h-1zM130 468h1v1h-1zM130 470h1v1h-1zM130 472h1v1h-1zM130 474h1v1h-1zM130 476h1v1h-1zM130 478h1v1h-1zM130 480h1v1h-1zM130 482h1v1h-1zM130 484h1v1h-1zM130 486h1v1h-1zM130 488h1v1h-1zM130 490h1v1h-1zM130 492h1v1h-1zM130 494h1v1h-1zM130 496h1v1h-1zM130 498h1v1h-1zM130 500h1v1h-1zM130 502h1v1h-1zM130 504h1v1h-1zM130 506h1v1h-1zM130 508h1v1h-1zM130 510h1v1h-1zM130 512h1v1h-1zM130 514h1v1h-1zM130 516h1v1h-1zM130 518h1v1h-1zM130 520h1v1h-1zM130 522h1v1h-1zM130 524h1v1h-1zM130 526h1v1h-1zM130 528h1v1h-1zM130 530h1v1h-1zM130 532h1v1h-1zM130 534h1v1h-1zM130 536h1v1h-1zM130 538h1v1h-1zM130 540h1v1h-1zM130 542h1v1h-1zM130 544h1v1h-1zM130 546h1v1h-1zM130 548h1v1h-1zM130 550h1v1h-1zM130 552h1v1h-1zM130 554h1v1h-1zM130 556h1v1h-1zM130 558h1v1h-1zM130 624h1v1h-1zM130 626h1v1h-1zM130 628h1v1h-1zM130 630h1v1h-1zM130 632h1v1h-1zM130 634h1v1h-1zM130 636h1v1h-1zM130 638h1v1h-1zM130 640h1v1h-1zM130 642h1v1h-1zM130 644h1v1h-1zM130 646h1v1h-1zM130 648h1v1h-1zM130 650h1v1h-1zM130 676h1v1h-1zM130 678h1v1h-1zM130 680h1v1h-1zM130 682h1v1h-1zM130 684h1v1h-1zM130 686h1v1h-1zM130 688h1v1h-1zM234 2h1v1h-1zM234 4h1v1h-1zM234 6h1v1h-1zM234 8h1v1h-1zM234 10h1v1h-1zM234 12h1v1h-1zM234 14h1v1h-1zM234 16h1v1h-1zM234 18h1v1h-1zM234 20h1v1h-1zM234 22h1v1h-1zM234 24h1v1h-1zM234 26h1v1h-1zM234 28h1v1h-1zM234 30h1v1h-1zM234 32h1v1h-1zM234 34h1v1h-1zM234 36h1v1h-1zM234 38h1v1h-1zM234 40h1v1h-1zM234 42h1v1h-1zM234 44h1v1h-1zM234 46h1v1h-1zM234 48h1v1h-1zM234 50h1v1h-1zM234 66h1v1h-1zM234 68h1v1h-1zM234 70h1v1h-1zM234 72h1v1h-1zM234 74h1v1h-1zM234 76h1v1h-1zM234 78h1v1h-1zM234 80h1v1h-1zM234 82h1v1h-1zM234 84h1v1h-1zM234 86h1v1h-1zM234 88h1v1h-1zM234 90h1v1h-1zM234 92h1v1h-1zM234 94h1v1h-1zM234 96h1v1h-1zM234 98h1v1h-1zM234 100h1v1h-1zM234 102h1v1h-1zM234 104h1v1h-1zM234 342h1v1h-1zM234 344h1v1h-1zM234 346h1v1h-1zM234 348h1v1h-1zM234 350h1v1h-1zM234 352h1v1h-1zM234 354h1v1h-1zM234 356h1v1h-1zM234 358h1v1h-1zM234 360h1v1h-1zM234 362h1v1h-1zM234 364h1v1h-1zM234 366h1v1h-1zM234 368h1v1h-1zM234 370h1v1h-1zM234 372h1v1h-1zM234 374h1v1h-1zM234 376h1v1h-1zM234 378h1v1h-1zM234 380h1v1h-1zM234 382h1v1h-1zM234 384h1v1h-1zM234 386h1v1h-1zM234 388h1v1h-1zM234 390h1v1h-1zM234 392h1v1h-1zM234 394h1v1h-1zM234 396h1v1h-1zM234 398h1v1h-1zM234 400h1v1h-1zM234 402h1v1h-1zM234 404h1v1h-1zM234 406h1v1h-1zM234 408h1v1h-1zM234 410h1v1h-1zM234 412h1v1h-1zM234 414h1v1h-1zM234 416h1v1h-1zM234 418h1v1h-1zM234 420h1v1h-1zM234 422h1v1h-1zM234 424h1v1h-1zM234 426h1v1h-1zM234 428h1v1h-1zM234 430h1v1h-1zM234 432h1v1h-1zM234 434h1v1h-1zM234 436h1v1h-1zM234 438h1v1h-1zM234 440h1v1h-1zM234 442h1v1h-1zM234 444h1v1h-1zM234 446h1v1h-1zM234 448h1v1h-1zM234 450h1v1h-1zM234 452h1v1h-1zM234 454h1v1h-1zM234 456h1v1h-1zM234 458h1v1h-1zM234 460h1v1h-1zM234 462h1v1h-1zM234 464h1v1h-1zM234 466h1v1h-1zM234 468h1v1h-1zM234 470h1v1h-1zM234 472h1v1h-1zM234 474h1v1h-1zM234 476h1v1h-1zM234 478h1v1h-1zM234 480h1v1h-1zM234 482h1v1h-1zM234 484h1v1h-1zM234 486h1v1h-1zM234 488h1v1h-1zM234 490h1v1h-1zM234 492h1v1h-1zM234 494h1v1h-1zM234 496h1v1h-1zM234 498h1v1h-1zM234 500h1v1h-1zM234 502h1v1h-1zM234 504h1v1h-1zM234 506h1v1h-1zM234 508h1v1h-1zM234 510h1v1h-1zM234 512h1v1h-1zM234 514h1v1h-1zM234 516h1v1h-1zM234 518h1v1h-1zM234 520h1v1h-1zM234 522h1v1h-1zM234 524h1v1h-1zM234 526h1v1h-1zM234 528h1v1h-1zM234 530h1v1h-1zM234 532h1v1h-1zM234 534h1v1h-1zM234 536h1v1h-1zM234 538h1v1h-1zM234 540h1v1h-1zM234 542h1v1h-1zM234 544h1v1h-1zM234 546h1v1h-1zM234 548h1v1h-1zM234 550h1v1h-1zM234 552h1v1h-1zM234 554h1v1h-1zM234 556h1v1h-1zM234 558h1v1h-1zM234 560h1v1h-1zM234 562h1v1h-1zM234 564h1v1h-1zM234 566h1v1h-1zM234 568h1v1h-1zM234 570h1v1h-1zM234 572h1v1h-1zM234 574h1v1h-1zM234 576h1v1h-1zM234 578h1v1h-1zM234 580h1v1h-1zM234 582h1v1h-1zM234 584h1v1h-1zM234 586h1v1h-1zM234 588h1v1h-1zM234 590h1v1h-1zM234 592h1v1h-1zM234 594h1v1h-1zM234 596h1v1h-1zM234 598h1v1h-1zM234 600h1v1h-1zM234 602h1v1h-1zM234 604h1v1h-1zM234 606h1v1h-1zM234 608h1v1h-1zM234 610h1v1h-1zM234 612h1v1h-1zM234 614h1v1h-1zM234 616h1v1h-1zM234 618h1v1h-1zM234 620h1v1h-1zM234 622h1v1h-1zM234 624h1v1h-1zM234 626h1v1h-1zM234 628h1v1h-1zM234 630h1v1h-1zM234 632h1v1h-1zM234 634h1v1h-1zM234 636h1v1h-1zM234 638h1v1h-1zM234 640h1v1h-1zM234 642h1v1h-1zM234 644h1v1h-1zM234 646h1v1h-1zM234 648h1v1h-1zM234 650h1v1h-1zM234 652h1v1h-1zM234 654h1v1h-1zM234 656h1v1h-1zM234 658h1v1h-1zM234 660h1v1h-1zM234 662h1v1h-1zM234 664h1v1h-1zM234 666h1v1h-1zM234 668h1v1h-1zM234 670h1v1h-1zM234 672h1v1h-1zM234 674h1v1h-1zM234 676h1v1h-1zM234 678h1v1h-1zM234 680h1v1h-1zM234 682h1v1h-1zM234 684h1v1h-1zM234 686h1v1h-1zM234 688h1v1h-1zM338 2h1v1h-1zM338 4h1v1h-1zM338 6h1v1h-1zM338 8h1v1h-1zM338 10h1v1h-1zM338 12h1v1h-1zM338 14h1v1h-1zM338 16h1v1h-1zM338 18h1v1h-1zM338 20h1v1h-1zM338 22h1v1h-1zM338 24h1v1h-1zM338 26h1v1h-1zM338 28h1v1h-1zM338 30h1v1h-1zM338 32h1v1h-1zM338 34h1v1h-1zM338 36h1v1h-1zM338 38h1v1h-1zM338 40h1v1h-1zM338 42h1v1h-1zM338 44h1v1h-1zM338 46h1v1h-1zM338 48h1v1h-1zM338 50h1v1h-1zM338 52h1v1h-1zM338 54h1v1h-1zM338 56h1v1h-1zM338 58h1v1h-1zM338 60h1v1h-1zM338 62h1v1h-1zM338 64h1v1h-1zM338 66h1v1h-1zM338 68h1v1h-1zM338 70h1v1h-1zM338 72h1v1h-1zM338 74h1v1h-1zM338 76h1v1h-1zM338 78h1v1h-1zM338 80h1v1h-1zM338 82h1v1h-1zM338 84h1v1h-1zM338 86h1v1h-1zM338 88h1v1h-1zM338 90h1v1h-1zM338 92h1v1h-1zM338 94h1v1h-1zM338 96h1v1h-1zM338 98h1v1h-1zM338 100h1v1h-1zM338 102h1v1h-1zM338 104h1v1h-1zM338 106h1v1h-1zM338 108h1v1h-1zM338 110h1v1h-1zM338 112h1v1h-1zM338 114h1v1h-1zM338 116h1v1h-1zM338 118h1v1h-1zM338 120h1v1h-1zM338 122h1v1h-1zM338 124h1v1h-1zM338 126h1v1h-1zM338 128h1v1h-1zM338 130h1v1h-1zM338 132h1v1h-1zM338 134h1v1h-1zM338 136h1v1h-1zM338 138h1v1h-1zM338 140h1v1h-1zM338 142h1v1h-1zM338 144h1v1h-1zM338 146h1v1h-1zM338 148h1v1h-1zM338 150h1v1h-1zM338 152h1v1h-1zM338 154h1v1h-1zM338 156h1v1h-1zM338 158h1v1h-1zM338 160h1v1h-1zM338 162h1v1h-1zM338 164h1v1h-1zM338 166h1v1h-1zM338 168h1v1h-1zM338 170h1v1h-1zM338 172h1v1h-1zM338 174h1v1h-1zM338 176h1v1h-1zM338 178h1v1h-1zM338 180h1v1h-1zM338 182h1v1h-1zM338 184h1v1h-1zM338 186h1v1h-1zM338 188h1v1h-1zM338 190h1v1h-1zM338 192h1v1h-1zM338 194h1v1h-1zM338 196h1v1h-1zM338 198h1v1h-1zM338 200h1v1h-1zM338 202h1v1h-1zM338 204h1v1h-1zM338 206h1v1h-1zM338 208h1v1h-1zM338 210h1v1h-1zM338 212h1v1h-1zM338 214h1v1h-1zM338 216h1v1h-1zM338 218h1v1h-1zM338 220h1v1h-1zM338 222h1v1h-1zM338 224h1v1h-1zM338 226h1v1h-1zM338 228h1v1h-1zM338 230h1v1h-1zM338 232h1v1h-1zM338 234h1v1h-1zM338 236h1v1h-1zM338 238h1v1h-1zM338 240h1v1h-1zM338 242h1v1h-1zM338 244h1v1h-1zM338 246h1v1h-1zM338 248h1v1h-1zM338 250h1v1h-1zM338 252h1v1h-1zM338 254h1v1h-1zM338 256h1v1h-1zM338 258h1v1h-1zM338 260h1v1h-1zM338 262h1v1h-1zM338 264h1v1h-1zM338 266h1v1h-1zM338 268h1v1h-1zM338 270h1v1h-1zM338 272h1v1h-1zM338 274h1v1h-1zM338 276h1v1h-1zM338 278h1v1h-1zM338 280h1v1h-1zM338 282h1v1h-1zM338 284h1v1h-1zM338 286h1v1h-1zM338 288h1v1h-1zM338 290h1v1h-1zM338 292h1v1h-1zM338 294h1v1h-1zM338 296h1v1h-1zM338 298h1v1h-1zM338 300h1v1h-1zM338 302h1v1h-1zM338 304h1v1h-1zM338 306h1v1h-1zM338 308h1v1h-1zM338 310h1v1h-1zM338 312h1v1h-1zM338 314h1v1h-1zM338 316h1v1h-1zM338 318h1v1h-1zM338 320h1v1h-1zM338 322h1v1h-1zM338 324h1v1h-1zM338 326h1v1h-1zM338 328h1v1h-1zM338 330h1v1h-1zM338 332h1v1h-1zM338 334h1v1h-1zM338 336h1v1h-1zM338 338h1v1h-1zM338 340h1v1h-1zM338 342h1v1h-1zM338 344h1v1h-1zM338 346h1v1h-1zM338 348h1v1h-1zM338 350h1v1h-1zM338 352h1v1h-1zM338 354h1v1h-1zM338 356h1v1h-1zM338 358h1v1h-1zM338 360h1v1h-1zM338 362h1v1h-1zM338 364h1v1h-1zM338 366h1v1h-1zM338 368h1v1h-1zM338 370h1v1h-1zM338 372h1v1h-1zM338 374h1v1h-1zM338 376h1v1h-1zM338 378h1v1h-1zM338 380h1v1h-1zM338 382h1v1h-1zM338 384h1v1h-1zM338 386h1v1h-1zM338 388h1v1h-1zM338 390h1v1h-1zM338 392h1v1h-1zM338 394h1v1h-1zM338 396h1v1h-1zM338 398h1v1h-1zM338 400h1v1h-1zM338 402h1v1h-1zM338 404h1v1h-1zM338 406h1v1h-1zM338 408h1v1h-1zM338 410h1v1h-1zM338 412h1v1h-1zM338 414h1v1h-1zM338 416h1v1h-1zM338 418h1v1h-1zM338 420h1v1h-1zM338 422h1v1h-1zM338 424h1v1h-1zM338 426h1v1h-1zM338 428h1v1h-1zM338 430h1v1h-1zM338 432h1v1h-1zM338 434h1v1h-1zM338 436h1v1h-1zM338 438h1v1h-1zM338 440h1v1h-1zM338 442h1v1h-1zM338 444h1v1h-1zM338 446h1v1h-1zM338 448h1v1h-1zM338 450h1v1h-1zM338 452h1v1h-1zM338 454h1v1h-1zM338 456h1v1h-1zM338 458h1v1h-1zM338 460h1v1h-1zM338 462h1v1h-1zM338 464h1v1h-1zM338 466h1v1h-1zM338 468h1v1h-1zM338 470h1v1h-1zM338 472h1v1h-1zM338 474h1v1h-1zM338 476h1v1h-1zM338 478h1v1h-1zM338 480h1v1h-1zM338 482h1v1h-1zM338 484h1v1h-1zM338 486h1v1h-1zM338 488h1v1h-1zM338 490h1v1h-1zM338 492h1v1h-1zM338 494h1v1h-1zM338 508h1v1h-1zM338 510h1v1h-1zM338 512h1v1h-1zM338 514h1v1h-1zM338 516h1v1h-1zM338 518h1v1h-1zM338 520h1v1h-1zM338 522h1v1h-1zM338 524h1v1h-1zM338 526h1v1h-1zM338 528h1v1h-1zM338 530h1v1h-1zM338 532h1v1h-1zM338 534h1v1h-1zM338 536h1v1h-1zM338 538h1v1h-1zM338 540h1v1h-1zM338 542h1v1h-1zM338 544h1v1h-1zM338 546h1v1h-1zM338 548h1v1h-1zM338 550h1v1h-1zM338 552h1v1h-1zM338 554h1v1h-1zM338 556h1v1h-1zM338 558h1v1h-1zM338 560h1v1h-1zM338 562h1v1h-1zM338 564h1v1h-1zM338 566h1v1h-1zM338 568h1v1h-1zM338 570h1v1h-1zM338 572h1v1h-1zM338 574h1v1h-1zM338 576h1v1h-1zM338 578h1v1h-1zM338 580h1v1h-1zM338 582h1v1h-1zM338 584h1v1h-1zM338 586h1v1h-1zM338 588h1v1h-1zM338 590h1v1h-1zM338 592h1v1h-1zM338 594h1v1h-1zM338 596h1v1h-1zM338 598h1v1h-1zM442 118h1v1h-1zM442 120h1v1h-1zM442 122h1v1h-1zM442 124h1v1h-1zM442 126h1v1h-1zM442 128h1v1h-1zM442 130h1v1h-1zM442 132h1v1h-1zM442 134h1v1h-1zM442 136h1v1h-1zM442 138h1v1h-1zM442 140h1v1h-1zM442 142h1v1h-1zM442 144h1v1h-1zM442 146h1v1h-1zM442 148h1v1h-1zM442 150h1v1h-1zM442 152h1v1h-1zM442 154h1v1h-1zM442 156h1v1h-1zM442 158h1v1h-1zM442 160h1v1h-1zM442 162h1v1h-1zM442 164h1v1h-1zM442 166h1v1h-1zM442 168h1v1h-1zM442 170h1v1h-1zM442 172h1v1h-1zM442 174h1v1h-1zM442 176h1v1h-1zM442 178h1v1h-1zM442 180h1v1h-1zM442 182h1v1h-1zM442 184h1v1h-1zM442 186h1v1h-1zM442 188h1v1h-1zM442 190h1v1h-1zM442 192h1v1h-1zM442 194h1v1h-1zM442 196h1v1h-1zM442 198h1v1h-1zM442 200h1v1h-1zM442 202h1v1h-1zM442 204h1v1h-1zM442 206h1v1h-1zM442 208h1v1h-1zM442 210h1v1h-1zM442 212h1v1h-1zM442 214h1v1h-1zM442 216h1v1h-1zM442 218h1v1h-1zM442 220h1v1h-1zM442 222h1v1h-1zM442 224h1v1h-1zM442 226h1v1h-1zM442 228h1v1h-1zM442 230h1v1h-1zM442 232h1v1h-1zM442 234h1v1h-1zM442 236h1v1h-1zM442 238h1v1h-1zM442 240h1v1h-1zM442 242h1v1h-1zM442 244h1v1h-1zM442 246h1v1h-1zM442 248h1v1h-1zM442 250h1v1h-1zM442 252h1v1h-1zM442 254h1v1h-1zM442 256h1v1h-1zM442 258h1v1h-1zM442 260h1v1h-1zM442 262h1v1h-1zM442 264h1v1h-1zM442 266h1v1h-1zM442 268h1v1h-1zM442 270h1v1h-1zM442 272h1v1h-1zM442 274h1v1h-1zM442 276h1v1h-1zM442 278h1v1h-1zM442 280h1v1h-1zM442 282h1v1h-1zM442 284h1v1h-1zM442 286h1v1h-1zM442 288h1v1h-1zM442 290h1v1h-1zM442 292h1v1h-1zM442 294h1v1h-1zM442 296h1v1h-1zM442 298h1v1h-1zM442 300h1v1h-1zM442 302h1v1h-1zM442 304h1v1h-1zM442 306h1v1h-1zM442 308h1v1h-1zM442 310h1v1h-1zM442 312h1v1h-1zM442 314h1v1h-1zM442 316h1v1h-1zM442 318h1v1h-1zM442 320h1v1h-1zM442 322h1v1h-1zM442 324h1v1h-1zM442 326h1v1h-1zM442 328h1v1h-1zM442 330h1v1h-1zM442 332h1v1h-1zM442 334h1v1h-1zM442 336h1v1h-1zM442 338h1v1h-1zM442 340h1v1h-1zM442 342h1v1h-1zM442 344h1v1h-1zM442 346h1v1h-1zM442 348h1v1h-1zM442 350h1v1h-1zM442 352h1v1h-1zM442 354h1v1h-1zM442 356h1v1h-1zM442 358h1v1h-1zM442 360h1v1h-1zM442 362h1v1h-1zM442 364h1v1h-1zM442 366h1v1h-1zM442 368h1v1h-1zM442 370h1v1h-1zM442 372h1v1h-1zM442 374h1v1h-1zM442 376h1v1h-1zM442 378h1v1h-1zM442 380h1v1h-1zM442 382h1v1h-1zM442 384h1v1h-1zM442 386h1v1h-1zM442 388h1v1h-1zM442 390h1v1h-1zM442 392h1v1h-1zM442 394h1v1h-1zM442 396h1v1h-1zM442 398h1v1h-1zM442 400h1v1h-1zM442 402h1v1h-1zM442 404h1v1h-1zM442 406h1v1h-1zM442 408h1v1h-1zM442 410h1v1h-1zM442 412h1v1h-1zM442 414h1v1h-1zM442 416h1v1h-1zM442 418h1v1h-1zM442 420h1v1h-1zM442 422h1v1h-1zM442 424h1v1h-1zM442 426h1v1h-1zM442 428h1v1h-1zM442 430h1v1h-1zM442 432h1v1h-1zM442 434h1v1h-1zM442 436h1v1h-1zM442 438h1v1h-1zM442 440h1v1h-1zM442 442h1v1h-1zM442 444h1v1h-1zM442 446h1v1h-1zM442 448h1v1h-1zM442 450h1v1h-1zM442 452h1v1h-1zM442 454h1v1h-1zM442 456h1v1h-1zM442 458h1v1h-1zM442 460h1v1h-1zM442 462h1v1h-1zM442 464h1v1h-1zM442 466h1v1h-1zM442 468h1v1h-1zM442 470h1v1h-1zM442 472h1v1h-1zM442 474h1v1h-1zM442 476h1v1h-1zM442 478h1v1h-1zM442 480h1v1h-1zM442 482h1v1h-1zM442 484h1v1h-1zM442 486h1v1h-1zM442 488h1v1h-1zM442 490h1v1h-1zM442 492h1v1h-1zM442 494h1v1h-1zM442 496h1v1h-1zM442 498h1v1h-1zM442 500h1v1h-1zM442 502h1v1h-1zM442 504h1v1h-1zM442 506h1v1h-1zM442 508h1v1h-1zM442 510h1v1h-1zM442 512h1v1h-1zM442 514h1v1h-1zM442 516h1v1h-1zM442 518h1v1h-1zM442 520h1v1h-1zM442 522h1v1h-1zM442 524h1v1h-1zM442 526h1v1h-1zM442 528h1v1h-1zM442 530h1v1h-1zM442 532h1v1h-1zM442 534h1v1h-1zM442 536h1v1h-1zM442 538h1v1h-1zM442 540h1v1h-1zM442 542h1v1h-1zM442 544h1v1h-1zM442 546h1v1h-1zM442 548h1v1h-1zM442 550h1v1h-1zM442 552h1v1h-1zM442 554h1v1h-1zM442 556h1v1h-1zM442 558h1v1h-1zM442 572h1v1h-1zM442 574h1v1h-1zM442 576h1v1h-1zM442 578h1v1h-1zM442 580h1v1h-1zM442 582h1v1h-1zM442 584h1v1h-1zM442 586h1v1h-1zM442 588h1v1h-1zM442 590h1v1h-1zM442 592h1v1h-1zM442 594h1v1h-1zM442 596h1v1h-1zM442 598h1v1h-1zM546 196h1v1h-1zM546 198h1v1h-1zM546 200h1v1h-1zM546 202h1v1h-1zM546 204h1v1h-1zM546 206h1v1h-1zM546 208h1v1h-1zM546 210h1v1h-1zM546 212h1v1h-1zM546 214h1v1h-1zM546 216h1v1h-1zM546 218h1v1h-1zM546 220h1v1h-1zM546 222h1v1h-1zM546 224h1v1h-1zM546 226h1v1h-1zM546 228h1v1h-1zM546 230h1v1h-1zM546 232h1v1h-1zM546 234h1v1h-1zM546 236h1v1h-1zM546 238h1v1h-1zM546 240h1v1h-1zM546 242h1v1h-1zM546 244h1v1h-1zM546 246h1v1h-1zM546 248h1v1h-1zM546 250h1v1h-1zM546 252h1v1h-1zM546 254h1v1h-1zM546 256h1v1h-1zM546 258h1v1h-1zM546 260h1v1h-1zM546 262h1v1h-1zM546 264h1v1h-1zM546 266h1v1h-1zM546 268h1v1h-1zM546 270h1v1h-1zM546 272h1v1h-1zM546 274h1v1h-1zM546 276h1v1h-1zM546 278h1v1h-1zM546 280h1v1h-1zM546 282h1v1h-1zM546 284h1v1h-1zM546 286h1v1h-1zM546 288h1v1h-1zM546 290h1v1h-1zM546 292h1v1h-1zM546 294h1v1h-1zM546 296h1v1h-1zM546 298h1v1h-1zM546 300h1v1h-1zM546 302h1v1h-1zM546 304h1v1h-1zM546 306h1v1h-1zM546 308h1v1h-1zM546 310h1v1h-1zM546 312h1v1h-1zM546 314h1v1h-1zM546 316h1v1h-1zM546 318h1v1h-1zM546 320h1v1h-1zM546 322h1v1h-1zM546 324h1v1h-1zM546 326h1v1h-1zM546 328h1v1h-1zM546 330h1v1h-1zM546 332h1v1h-1zM546 334h1v1h-1zM546 336h1v1h-1zM546 338h1v1h-1zM546 340h1v1h-1zM546 342h1v1h-1zM546 344h1v1h-1zM546 346h1v1h-1zM546 348h1v1h-1zM546 350h1v1h-1zM546 352h1v1h-1zM546 354h1v1h-1zM546 356h1v1h-1zM546 358h1v1h-1zM546 360h1v1h-1zM546 362h1v1h-1zM546 364h1v1h-1zM546 366h1v1h-1zM546 368h1v1h-1zM546 370h1v1h-1zM546 372h1v1h-1zM546 374h1v1h-1zM546 376h1v1h-1zM546 378h1v1h-1zM546 380h1v1h-1zM546 382h1v1h-1zM546 384h1v1h-1zM546 386h1v1h-1zM546 388h1v1h-1zM546 390h1v1h-1zM546 392h1v1h-1zM546 394h1v1h-1zM546 396h1v1h-1zM546 398h1v1h-1zM546 400h1v1h-1zM546 402h1v1h-1zM546 404h1v1h-1zM546 406h1v1h-1zM546 408h1v1h-1zM546 410h1v1h-1zM546 412h1v1h-1zM546 414h1v1h-1zM546 416h1v1h-1zM546 418h1v1h-1zM546 420h1v1h-1zM546 422h1v1h-1zM546 424h1v1h-1zM546 426h1v1h-1zM546 428h1v1h-1zM546 430h1v1h-1zM546 432h1v1h-1zM546 434h1v1h-1zM546 436h1v1h-1zM546 438h1v1h-1zM546 440h1v1h-1zM546 442h1v1h-1zM546 444h1v1h-1zM546 446h1v1h-1zM546 448h1v1h-1zM546 450h1v1h-1zM546 452h1v1h-1zM546 454h1v1h-1zM546 456h1v1h-1zM546 458h1v1h-1zM546 460h1v1h-1zM546 462h1v1h-1zM546 464h1v1h-1zM546 466h1v1h-1zM546 468h1v1h-1zM546 470h1v1h-1zM546 472h1v1h-1zM546 474h1v1h-1zM546 476h1v1h-1zM546 478h1v1h-1zM546 480h1v1h-1zM546 482h1v1h-1zM546 484h1v1h-1zM546 486h1v1h-1zM546 488h1v1h-1zM546 490h1v1h-1zM546 492h1v1h-1zM546 494h1v1h-1zM546 496h1v1h-1zM546 498h1v1h-1zM546 500h1v1h-1zM546 502h1v1h-1zM546 504h1v1h-1zM546 506h1v1h-1zM546 508h1v1h-1zM546 510h1v1h-1zM546 512h1v1h-1zM546 514h1v1h-1zM546 516h1v1h-1zM546 518h1v1h-1zM546 520h1v1h-1zM546 522h1v1h-1zM546 524h1v1h-1zM546 526h1v1h-1zM546 528h1v1h-1zM546 530h1v1h-1zM546 532h1v1h-1zM546 534h1v1h-1zM546 536h1v1h-1zM546 538h1v1h-1zM546 540h1v1h-1zM546 542h1v1h-1zM546 544h1v1h-1zM546 546h1v1h-1zM546 548h1v1h-1zM546 550h1v1h-1zM546 552h1v1h-1zM546 554h1v1h-1zM546 556h1v1h-1zM546 558h1v1h-1zM546 560h1v1h-1zM546 562h1v1h-1zM546 564h1v1h-1zM546 566h1v1h-1zM546 568h1v1h-1zM546 570h1v1h-1zM546 572h1v1h-1zM546 574h1v1h-1zM546 576h1v1h-1zM546 578h1v1h-1zM546 580h1v1h-1zM546 582h1v1h-1zM546 584h1v1h-1zM546 586h1v1h-1zM546 588h1v1h-1zM546 590h1v1h-1zM546 592h1v1h-1zM546 594h1v1h-1zM546 596h1v1h-1zM546 598h1v1h-1zM650 170h1v1h-1zM650 172h1v1h-1zM650 174h1v1h-1zM650 176h1v1h-1zM650 178h1v1h-1zM650 180h1v1h-1zM650 182h1v1h-1zM650 184h1v1h-1zM650 186h1v1h-1zM650 188h1v1h-1zM650 190h1v1h-1zM650 192h1v1h-1zM650 194h1v1h-1zM650 196h1v1h-1zM650 198h1v1h-1zM650 200h1v1h-1zM650 202h1v1h-1zM650 204h1v1h-1zM650 206h1v1h-1zM650 208h1v1h-1zM650 210h1v1h-1zM650 212h1v1h-1zM650 214h1v1h-1zM650 216h1v1h-1zM650 218h1v1h-1zM650 220h1v1h-1zM650 222h1v1h-1zM650 224h1v1h-1zM650 226h1v1h-1zM650 228h1v1h-1zM650 230h1v1h-1zM650 232h1v1h-1zM650 234h1v1h-1zM650 248h1v1h-1zM650 250h1v1h-1zM650 252h1v1h-1zM650 254h1v1h-1zM650 256h1v1h-1zM650 258h1v1h-1zM650 260h1v1h-1zM650 262h1v1h-1zM650 264h1v1h-1zM650 266h1v1h-1zM650 268h1v1h-1zM650 270h1v1h-1zM650 272h1v1h-1zM650 274h1v1h-1zM650 276h1v1h-1zM650 278h1v1h-1zM650 280h1v1h-1zM650 282h1v1h-1zM650 284h1v1h-1zM650 286h1v1h-1zM650 288h1v1h-1zM650 290h1v1h-1zM650 292h1v1h-1zM650 294h1v1h-1zM650 296h1v1h-1zM650 298h1v1h-1zM650 300h1v1h-1zM650 302h1v1h-1zM650 304h1v1h-1zM650 306h1v1h-1zM650 308h1v1h-1zM650 310h1v1h-1zM650 312h1v1h-1zM650 314h1v1h-1zM650 316h1v1h-1zM650 318h1v1h-1zM650 320h1v1h-1zM650 322h1v1h-1zM650 324h1v1h-1zM650 326h1v1h-1zM650 328h1v1h-1zM650 330h1v1h-1zM650 332h1v1h-1zM650 334h1v1h-1zM650 336h1v1h-1zM650 338h1v1h-1zM650 340h1v1h-1zM650 342h1v1h-1zM650 344h1v1h-1zM650 346h1v1h-1zM650 348h1v1h-1zM650 350h1v1h-1zM650 352h1v1h-1zM650 354h1v1h-1zM650 356h1v1h-1zM650 358h1v1h-1zM650 360h1v1h-1zM650 362h1v1h-1zM650 364h1v1h-1zM650 366h1v1h-1zM650 368h1v1h-1zM650 370h1v1h-1zM650 372h1v1h-1zM650 374h1v1h-1zM650 376h1v1h-1zM650 378h1v1h-1zM650 380h1v1h-1zM650 382h1v1h-1zM650 384h1v1h-1zM650 386h1v1h-1zM650 388h1v1h-1zM650 390h1v1h-1zM650 392h1v1h-1zM650 394h1v1h-1zM650 396h1v1h-1zM650 398h1v1h-1zM650 400h1v1h-1zM650 402h1v1h-1zM650 404h1v1h-1zM650 406h1v1h-1zM650 408h1v1h-1zM650 410h1v1h-1zM650 412h1v1h-1zM650 414h1v1h-1zM650 416h1v1h-1zM650 418h1v1h-1zM650 420h1v1h-1zM650 422h1v1h-1zM650 424h1v1h-1zM650 426h1v1h-1zM650 428h1v1h-1zM650 430h1v1h-1zM650 432h1v1h-1zM650 434h1v1h-1zM650 436h1v1h-1zM650 438h1v1h-1zM650 440h1v1h-1zM650 442h1v1h-1zM650 444h1v1h-1zM650 446h1v1h-1zM650 448h1v1h-1zM650 450h1v1h-1zM650 452h1v1h-1zM650 454h1v1h-1zM650 456h1v1h-1zM650 458h1v1h-1zM650 460h1v1h-1zM650 462h1v1h-1zM650 464h1v1h-1zM650 466h1v1h-1zM650 468h1v1h-1zM650 470h1v1h-1zM650 472h1v1h-1zM650 474h1v1h-1zM650 476h1v1h-1zM650 478h1v1h-1zM650 480h1v1h-1zM650 482h1v1h-1zM650 484h1v1h-1zM650 486h1v1h-1zM650 488h1v1h-1zM650 490h1v1h-1zM754 338h1v1h-1zM754 340h1v1h-1zM754 342h1v1h-1zM754 344h1v1h-1zM754 346h1v1h-1zM754 348h1v1h-1zM754 350h1v1h-1zM754 352h1v1h-1zM754 354h1v1h-1zM754 356h1v1h-1zM754 358h1v1h-1zM754 360h1v1h-1zM754 362h1v1h-1zM754 364h1v1h-1zM754 366h1v1h-1zM754 368h1v1h-1zM754 370h1v1h-1zM754 372h1v1h-1zM754 374h1v1h-1zM754 376h1v1h-1zM754 378h1v1h-1zM754 380h1v1h-1zM754 382h1v1h-1zM754 384h1v1h-1zM754 386h1v1h-1zM754 388h1v1h-1zM754 390h1v1h-1z" fill="#000"/>
<path d="M226 19h2v2h-2zM330 19h2v2h-2zM226 32h2v2h-2zM239 32h2v2h-2zM304 32h2v2h-2zM317 32h2v2h-2zM330 32h2v2h-2zM343 32h2v2h-2zM226 45h2v2h-2zM239 45h2v2h-2zM304 45h2v2h-2zM317 45h2v2h-2zM330 45h2v2h-2zM343 45h2v2h-2zM356 45h2v2h-2zM239 58h2v2h-2zM252 58h2v2h-2zM291 58h2v2h-2zM304 58h2v2h-2zM317 58h2v2h-2zM330 58h2v2h-2zM343 58h2v2h-2zM356 58h2v2h-2zM369 58h2v2h-2zM252 71h2v2h-2zM265 71h2v2h-2zM291 71h2v2h-2zM304 71h2v2h-2zM317 71h2v2h-2zM330 71h2v2h-2zM343 71h2v2h-2zM356 71h2v2h-2zM369 71h2v2h-2zM252 84h2v2h-2zM265 84h2v2h-2zM291 84h2v2h-2zM304 84h2v2h-2zM317 84h2v2h-2zM330 84h2v2h-2zM343 84h2v2h-2zM356 84h2v2h-2zM369 84h2v2h-2zM382 84h2v2h-2zM304 97h2v2h-2zM317 97h2v2h-2zM330 97h2v2h-2zM343 97h2v2h-2zM356 97h2v2h-2zM369 97h2v2h-2zM382 97h2v2h-2zM395 97h2v2h-2zM304 110h2v2h-2zM317 110h2v2h-2zM330 110h2v2h-2zM343 110h2v2h-2zM356 110h2v2h-2zM369 110h2v2h-2zM382 110h2v2h-2zM395 110h2v2h-2zM304 123h2v2h-2zM317 123h2v2h-2zM330 123h2v2h-2zM343 123h2v2h-2zM356 123h2v2h-2zM369 123h2v2h-2zM382 123h2v2h-2zM395 123h2v2h-2zM408 123h2v2h-2zM317 136h2v2h-2zM330 136h2v2h-2zM343 136h2v2h-2zM356 136h2v2h-2zM369 136h2v2h-2zM382 136h2v2h-2zM395 136h2v2h-2zM408 136h2v2h-2zM421 136h2v2h-2zM317 149h2v2h-2zM330 149h2v2h-2zM343 149h2v2h-2zM356 149h2v2h-2zM369 149h2v2h-2zM382 149h2v2h-2zM395 149h2v2h-2zM408 149h2v2h-2zM421 149h2v2h-2zM317 162h2v2h-2zM330 162h2v2h-2zM343 162h2v2h-2zM356 162h2v2h-2zM369 162h2v2h-2zM382 162h2v2h-2zM395 162h2v2h-2zM408 162h2v2h-2zM421 162h2v2h-2zM434 162h2v2h-2zM317 175h2v2h-2zM330 175h2v2h-2zM343 175h2v2h-2zM356 175h2v2h-2zM369 175h2v2h-2zM382 175h2v2h-2zM395 175h2v2h-2zM408 175h2v2h-2zM421 175h2v2h-2zM434 175h2v2h-2zM447 175h2v2h-2zM265 188h2v2h-2zM278 188h2v2h-2zM304 188h2v2h-2zM317 188h2v2h-2zM330 188h2v2h-2zM343 188h2v2h-2zM356 188h2v2h-2zM369 188h2v2h-2zM382 188h2v2h-2zM395 188h2v2h-2zM408 188h2v2h-2zM421 188h2v2h-2zM434 188h2v2h-2zM447 188h2v2h-2zM460 188h2v2h-2zM265 201h2v2h-2zM304 201h2v2h-2zM317 201h2v2h-2zM330 201h2v2h-2zM343 201h2v2h-2zM356 201h2v2h-2zM369 201h2v2h-2zM382 201h2v2h-2zM395 201h2v2h-2zM408 201h2v2h-2zM421 201h2v2h-2zM434 201h2v2h-2zM447 201h2v2h-2zM460 201h2v2h-2zM473 201h2v2h-2zM681 201h2v2h-2zM304 214h2v2h-2zM317 214h2v2h-2zM330 214h2v2h-2zM343 214h2v2h-2zM356 214h2v2h-2zM369 214h2v2h-2zM382 214h2v2h-2zM395 214h2v2h-2zM408 214h2v2h-2zM421 214h2v2h-2zM434 214h2v2h-2zM447 214h2v2h-2zM460 214h2v2h-2zM473 214h2v2h-2zM486 214h2v2h-2zM499 214h2v2h-2zM668 214h2v2h-2zM681 214h2v2h-2zM304 227h2v2h-2zM317 227h2v2h-2zM330 227h2v2h-2zM343 227h2v2h-2zM356 227h2v2h-2zM369 227h2v2h-2zM382 227h2v2h-2zM395 227h2v2h-2zM408 227h2v2h-2zM421 227h2v2h-2zM434 227h2v2h-2zM447 227h2v2h-2zM460 227h2v2h-2zM473 227h2v2h-2zM486 227h2v2h-2zM499 227h2v2h-2zM512 227h2v2h-2zM525 227h2v2h-2zM668 227h2v2h-2zM681 227h2v2h-2zM304 240h2v2h-2zM317 240h2v2h-2zM330 240h2v2h-2zM343 240h2v2h-2zM356 240h2v2h-2zM369 240h2v2h-2zM382 240h2v2h-2zM395 240h2v2h-2zM408 240h2v2h-2zM421 240h2v2h-2zM434 240h2v2h-2zM447 240h2v2h-2zM460 240h2v2h-2zM473 240h2v2h-2zM486 240h2v2h-2zM499 240h2v2h-2zM512 240h2v2h-2zM525 240h2v2h-2zM538 240h2v2h-2zM551 240h2v2h-2zM564 240h2v2h-2zM577 240h2v2h-2zM655 240h2v2h-2zM668 240h2v2h-2zM681 240h2v2h-2zM304 253h2v2h-2zM317 253h2v2h-2zM330 253h2v2h-2zM343 253h2v2h-2zM356 253h2v2h-2zM369 253h2v2h-2zM382 253h2v2h-2zM395 253h2v2h-2zM408 253h2v2h-2zM421 253h2v2h-2zM434 253h2v2h-2zM447 253h2v2h-2zM460 253h2v2h-2zM473 253h2v2h-2zM486 253h2v2h-2zM499 253h2v2h-2zM512 253h2v2h-2zM525 253h2v2h-2zM538 253h2v2h-2zM551 253h2v2h-2zM564 253h2v2h-2zM577 253h2v2h-2zM642 253h2v2h-2zM655 253h2v2h-2zM668 253h2v2h-2zM304 266h2v2h-2zM317 266h2v2h-2zM330 266h2v2h-2zM343 266h2v2h-2zM356 266h2v2h-2zM369 266h2v2h-2zM382 266h2v2h-2zM395 266h2v2h-2zM408 266h2v2h-2zM421 266h2v2h-2zM434 266h2v2h-2zM447 266h2v2h-2zM460 266h2v2h-2zM473 266h2v2h-2zM486 266h2v2h-2zM499 266h2v2h-2zM512 266h2v2h-2zM525 266h2v2h-2zM538 266h2v2h-2zM551 266h2v2h-2zM564 266h2v2h-2zM577 266h2v2h-2zM590 266h2v2h-2zM603 266h2v2h-2zM616 266h2v2h-2zM629 266h2v2h-2zM642 266h2v2h-2zM655 266h2v2h-2zM668 266h2v2h-2zM278 279h2v2h-2zM291 279h2v2h-2zM304 279h2v2h-2zM317 279h2v2h-2zM330 279h2v2h-2zM343 279h2v2h-2zM356 279h2v2h-2zM369 279h2v2h-2zM382 279h2v2h-2zM395 279h2v2h-2zM408 279h2v2h-2zM421 279h2v2h-2zM434 279h2v2h-2zM447 279h2v2h-2zM460 279h2v2h-2zM473 279h2v2h-2zM486 279h2v2h-2zM499 279h2v2h-2zM512 279h2v2h-2zM525 279h2v2h-2zM538 279h2v2h-2zM551 279h2v2h-2zM564 279h2v2h-2zM577 279h2v2h-2zM590 279h2v2h-2zM603 279h2v2h-2zM616 279h2v2h-2zM629 279h2v2h-2zM642 279h2v2h-2zM655 279h2v2h-2zM265 292h2v2h-2zM278 292h2v2h-2zM291 292h2v2h-2zM304 292h2v2h-2zM317 292h2v2h-2zM330 292h2v2h-2zM343 292h2v2h-2zM356 292h2v2h-2zM369 292h2v2h-2zM382 292h2v2h-2zM395 292h2v2h-2zM408 292h2v2h-2zM421 292h2v2h-2zM434 292h2v2h-2zM447 292h2v2h-2zM460 292h2v2h-2zM473 292h2v2h-2zM486 292h2v2h-2zM499 292h2v2h-2zM512 292h2v2h-2zM525 292h2v2h-2zM538 292h2v2h-2zM551 292h2v2h-2zM564 292h2v2h-2zM577 292h2v2h-2zM590 292h2v2h-2zM603 292h2v2h-2zM616 292h2v2h-2zM629 292h2v2h-2zM642 292h2v2h-2zM655 292h2v2h-2zM265 305h2v2h-2zM278 305h2v2h-2zM291 305h2v2h-2zM304 305h2v2h-2zM317 305h2v2h-2zM330 305h2v2h-2zM343 305h2v2h-2zM356 305h2v2h-2zM369 305h2v2h-2zM382 305h2v2h-2zM395 305h2v2h-2zM408 305h2v2h-2zM421 305h2v2h-2zM434 305h2v2h-2zM447 305h2v2h-2zM460 305h2v2h-2zM473 305h2v2h-2zM486 305h2v2h-2zM499 305h2v2h-2zM512 305h2v2h-2zM525 305h2v2h-2zM538 305h2v2h-2zM551 305h2v2h-2zM564 305h2v2h-2zM577 305h2v2h-2zM590 305h2v2h-2zM603 305h2v2h-2zM616 305h2v2h-2zM629 305h2v2h-2zM642 305h2v2h-2zM655 305h2v2h-2zM668 305h2v2h-2zM265 318h2v2h-2zM278 318h2v2h-2zM291 318h2v2h-2zM304 318h2v2h-2zM317 318h2v2h-2zM330 318h2v2h-2zM343 318h2v2h-2zM356 318h2v2h-2zM369 318h2v2h-2zM382 318h2v2h-2zM395 318h2v2h-2zM408 318h2v2h-2zM421 318h2v2h-2zM434 318h2v2h-2zM447 318h2v2h-2zM460 318h2v2h-2zM473 318h2v2h-2zM486 318h2v2h-2zM499 318h2v2h-2zM512 318h2v2h-2zM525 318h2v2h-2zM538 318h2v2h-2zM551 318h2v2h-2zM564 318h2v2h-2zM577 318h2v2h-2zM590 318h2v2h-2zM603 318h2v2h-2zM616 318h2v2h-2zM629 318h2v2h-2zM642 318h2v2h-2zM655 318h2v2h-2zM668 318h2v2h-2zM681 318h2v2h-2zM265 331h2v2h-2zM278 331h2v2h-2zM291 331h2v2h-2zM304 331h2v2h-2zM317 331h2v2h-2zM330 331h2v2h-2zM343 331h2v2h-2zM356 331h2v2h-2zM369 331h2v2h-2zM382 331h2v2h-2zM395 331h2v2h-2zM408 331h2v2h-2zM421 331h2v2h-2zM434 331h2v2h-2zM447 331h2v2h-2zM460 331h2v2h-2zM473 331h2v2h-2zM486 331h2v2h-2zM499 331h2v2h-2zM512 331h2v2h-2zM525 331h2v2h-2zM538 331h2v2h-2zM551 331h2v2h-2zM564 331h2v2h-2zM577 331h2v2h-2zM590 331h2v2h-2zM603 331h2v2h-2zM616 331h2v2h-2zM629 331h2v2h-2zM642 331h2v2h-2zM655 331h2v2h-2zM668 331h2v2h-2zM681 331h2v2h-2zM265 344h2v2h-2zM278 344h2v2h-2zM291 344h2v2h-2zM304 344h2v2h-2zM317 344h2v2h-2zM330 344h2v2h-2zM343 344h2v2h-2zM356 344h2v2h-2zM369 344h2v2h-2zM382 344h2v2h-2zM395 344h2v2h-2zM408 344h2v2h-2zM421 344h2v2h-2zM434 344h2v2h-2zM447 344h2v2h-2zM460 344h2v2h-2zM473 344h2v2h-2zM486 344h2v2h-2zM499 344h2v2h-2zM512 344h2v2h-2zM525 344h2v2h-2zM538 344h2v2h-2zM551 344h2v2h-2zM564 344h2v2h-2zM577 344h2v2h-2zM590 344h2v2h-2zM603 344h2v2h-2zM616 344h2v2h-2zM629 344h2v2h-2zM642 344h2v2h-2zM655 344h2v2h-2zM668 344h2v2h-2zM681 344h2v2h-2zM161 357h2v2h-2zM174 357h2v2h-2zM187 357h2v2h-2zM278 357h2v2h-2zM291 357h2v2h-2zM317 357h2v2h-2zM330 357h2v2h-2zM343 357h2v2h-2zM356 357h2v2h-2zM369 357h2v2h-2zM382 357h2v2h-2zM395 357h2v2h-2zM408 357h2v2h-2zM421 357h2v2h-2zM434 357h2v2h-2zM447 357h2v2h-2zM460 357h2v2h-2zM473 357h2v2h-2zM486 357h2v2h-2zM499 357h2v2h-2zM512 357h2v2h-2zM525 357h2v2h-2zM538 357h2v2h-2zM551 357h2v2h-2zM564 357h2v2h-2zM577 357h2v2h-2zM590 357h2v2h-2zM603 357h2v2h-2zM616 357h2v2h-2zM629 357h2v2h-2zM642 357h2v2h-2zM655 357h2v2h-2zM668 357h2v2h-2zM681 357h2v2h-2zM707 357h2v2h-2zM720 357h2v2h-2zM733 357h2v2h-2zM161 370h2v2h-2zM174 370h2v2h-2zM187 370h2v2h-2zM200 370h2v2h-2zM265 370h2v2h-2zM278 370h2v2h-2zM291 370h2v2h-2zM304 370h2v2h-2zM317 370h2v2h-2zM330 370h2v2h-2zM343 370h2v2h-2zM356 370h2v2h-2zM369 370h2v2h-2zM382 370h2v2h-2zM395 370h2v2h-2zM408 370h2v2h-2zM421 370h2v2h-2zM434 370h2v2h-2zM447 370h2v2h-2zM460 370h2v2h-2zM473 370h2v2h-2zM486 370h2v2h-2zM499 370h2v2h-2zM512 370h2v2h-2zM525 370h2v2h-2zM538 370h2v2h-2zM551 370h2v2h-2zM564 370h2v2h-2zM577 370h2v2h-2zM590 370h2v2h-2zM603 370h2v2h-2zM616 370h2v2h-2zM629 370h2v2h-2zM642 370h2v2h-2zM655 370h2v2h-2zM668 370h2v2h-2zM681 370h2v2h-2zM694 370h2v2h-2zM707 370h2v2h-2zM720 370h2v2h-2zM733 370h2v2h-2zM161 383h2v2h-2zM174 383h2v2h-2zM187 383h2v2h-2zM200 383h2v2h-2zM213 383h2v2h-2zM226 383h2v2h-2zM239 383h2v2h-2zM252 383h2v2h-2zM265 383h2v2h-2zM278 383h2v2h-2zM291 383h2v2h-2zM304 383h2v2h-2zM317 383h2v2h-2zM330 383h2v2h-2zM343 383h2v2h-2zM356 383h2v2h-2zM369 383h2v2h-2zM382 383h2v2h-2zM395 383h2v2h-2zM408 383h2v2h-2zM421 383h2v2h-2zM434 383h2v2h-2zM447 383h2v2h-2zM460 383h2v2h-2zM473 383h2v2h-2zM486 383h2v2h-2zM499 383h2v2h-2zM512 383h2v2h-2zM525 383h2v2h-2zM538 383h2v2h-2zM551 383h2v2h-2zM564 383h2v2h-2zM577 383h2v2h-2zM590 383h2v2h-2zM603 383h2v2h-2zM616 383h2v2h-2zM629 383h2v2h-2zM642 383h2v2h-2zM655 383h2v2h-2zM668 383h2v2h-2zM681 383h2v2h-2zM694 383h2v2h-2zM707 383h2v2h-2zM174 396h2v2h-2zM187 396h2v2h-2zM200 396h2v2h-2zM213 396h2v2h-2zM226 396h2v2h-2zM239 396h2v2h-2zM252 396h2v2h-2zM265 396h2v2h-2zM278 396h2v2h-2zM291 396h2v2h-2zM317 396h2v2h-2zM330 396h2v2h-2zM343 396h2v2h-2zM356 396h2v2h-2zM369 396h2v2h-2zM382 396h2v2h-2zM395 396h2v2h-2zM408 396h2v2h-2zM421 396h2v2h-2zM434 396h2v2h-2zM447 396h2v2h-2zM460 396h2v2h-2zM473 396h2v2h-2zM486 396h2v2h-2zM499 396h2v2h-2zM512 396h2v2h-2zM525 396h2v2h-2zM538 396h2v2h-2zM551 396h2v2h-2zM564 396h2v2h-2zM577 396h2v2h-2zM590 396h2v2h-2zM603 396h2v2h-2zM616 396h2v2h-2zM629 396h2v2h-2zM642 396h2v2h-2zM655 396h2v2h-2zM668 396h2v2h-2zM681 396h2v2h-2zM694 396h2v2h-2zM707 396h2v2h-2zM174 409h2v2h-2zM187 409h2v2h-2zM200 409h2v2h-2zM213 409h2v2h-2zM226 409h2v2h-2zM239 409h2v2h-2zM252 409h2v2h-2zM265 409h2v2h-2zM278 409h2v2h-2zM291 409h2v2h-2zM304 409h2v2h-2zM317 409h2v2h-2zM330 409h2v2h-2zM343 409h2v2h-2zM356 409h2v2h-2zM369 409h2v2h-2zM382 409h2v2h-2zM395 409h2v2h-2zM408 409h2v2h-2zM421 409h2v2h-2zM434 409h2v2h-2zM447 409h2v2h-2zM460 409h2v2h-2zM473 409h2v2h-2zM486 409h2v2h-2zM499 409h2v2h-2zM512 409h2v2h-2zM525 409h2v2h-2zM538 409h2v2h-2zM551 409h2v2h-2zM564 409h2v2h-2zM577 409h2v2h-2zM590 409h2v2h-2zM603 409h2v2h-2zM616 409h2v2h-2zM629 409h2v2h-2zM642 409h2v2h-2zM655 409h2v2h-2zM668 409h2v2h-2zM174 422h2v2h-2zM187 422h2v2h-2zM200 422h2v2h-2zM213 422h2v2h-2zM226 422h2v2h-2zM239 422h2v2h-2zM252 422h2v2h-2zM265 422h2v2h-2zM278 422h2v2h-2zM291 422h2v2h-2zM304 422h2v2h-2zM317 422h2v2h-2zM330 422h2v2h-2zM343 422h2v2h-2zM356 422h2v2h-2zM369 422h2v2h-2zM382 422h2v2h-2zM395 422h2v2h-2zM408 422h2v2h-2zM421 422h2v2h-2zM434 422h2v2h-2zM447 422h2v2h-2zM460 422h2v2h-2zM473 422h2v2h-2zM486 422h2v2h-2zM499 422h2v2h-2zM512 422h2v2h-2zM525 422h2v2h-2zM538 422h2v2h-2zM551 422h2v2h-2zM564 422h2v2h-2zM577 422h2v2h-2zM590 422h2v2h-2zM603 422h2v2h-2zM616 422h2v2h-2zM629 422h2v2h-2zM642 422h2v2h-2zM655 422h2v2h-2zM161 435h2v2h-2zM174 435h2v2h-2zM187 435h2v2h-2zM200 435h2v2h-2zM213 435h2v2h-2zM226 435h2v2h-2zM239 435h2v2h-2zM252 435h2v2h-2zM265 435h2v2h-2zM278 435h2v2h-2zM291 435h2v2h-2zM304 435h2v2h-2zM317 435h2v2h-2zM330 435h2v2h-2zM343 435h2v2h-2zM356 435h2v2h-2zM369 435h2v2h-2zM382 435h2v2h-2zM395 435h2v2h-2zM408 435h2v2h-2zM421 435h2v2h-2zM434 435h2v2h-2zM447 435h2v2h-2zM460 435h2v2h-2zM473 435h2v2h-2zM486 435h2v2h-2zM499 435h2v2h-2zM512 435h2v2h-2zM525 435h2v2h-2zM538 435h2v2h-2zM551 435h2v2h-2zM148 448h2v2h-2zM161 448h2v2h-2zM174 448h2v2h-2zM187 448h2v2h-2zM200 448h2v2h-2zM213 448h2v2h-2zM226 448h2v2h-2zM239 448h2v2h-2zM252 448h2v2h-2zM265 448h2v2h-2zM278 448h2v2h-2zM291 448h2v2h-2zM304 448h2v2h-2zM317 448h2v2h-2zM330 448h2v2h-2zM343 448h2v2h-2zM356 448h2v2h-2zM369 448h2v2h-2zM382 448h2v2h-2zM395 448h2v2h-2zM408 448h2v2h-2zM421 448h2v2h-2zM434 448h2v2h-2zM447 448h2v2h-2zM460 448h2v2h-2zM473 448h2v2h-2zM486 448h2v2h-2zM499 448h2v2h-2zM512 448h2v2h-2zM525 448h2v2h-2zM122 461h2v2h-2zM135 461h2v2h-2zM148 461h2v2h-2zM161 461h2v2h-2zM174 461h2v2h-2zM187 461h2v2h-2zM200 461h2v2h-2zM213 461h2v2h-2zM226 461h2v2h-2zM239 461h2v2h-2zM252 461h2v2h-2zM265 461h2v2h-2zM278 461h2v2h-2zM291 461h2v2h-2zM304 461h2v2h-2zM317 461h2v2h-2zM330 461h2v2h-2zM343 461h2v2h-2zM356 461h2v2h-2zM369 461h2v2h-2zM382 461h2v2h-2zM395 461h2v2h-2zM408 461h2v2h-2zM421 461h2v2h-2zM434 461h2v2h-2zM447 461h2v2h-2zM460 461h2v2h-2zM473 461h2v2h-2zM486 461h2v2h-2zM499 461h2v2h-2zM512 461h2v2h-2zM109 474h2v2h-2zM122 474h2v2h-2zM135 474h2v2h-2zM148 474h2v2h-2zM161 474h2v2h-2zM174 474h2v2h-2zM187 474h2v2h-2zM200 474h2v2h-2zM213 474h2v2h-2zM226 474h2v2h-2zM239 474h2v2h-2zM252 474h2v2h-2zM265 474h2v2h-2zM278 474h2v2h-2zM291 474h2v2h-2zM304 474h2v2h-2zM317 474h2v2h-2zM330 474h2v2h-2zM343 474h2v2h-2zM356 474h2v2h-2zM369 474h2v2h-2zM382 474h2v2h-2zM395 474h2v2h-2zM408 474h2v2h-2zM421 474h2v2h-2zM434 474h2v2h-2zM447 474h2v2h-2zM460 474h2v2h-2zM473 474h2v2h-2zM486 474h2v2h-2zM499 474h2v2h-2zM512 474h2v2h-2zM109 487h2v2h-2zM122 487h2v2h-2zM135 487h2v2h-2zM148 487h2v2h-2zM161 487h2v2h-2zM174 487h2v2h-2zM187 487h2v2h-2zM200 487h2v2h-2zM213 487h2v2h-2zM226 487h2v2h-2zM239 487h2v2h-2zM252 487h2v2h-2zM265 487h2v2h-2zM278 487h2v2h-2zM330 487h2v2h-2zM343 487h2v2h-2zM356 487h2v2h-2zM369 487h2v2h-2zM382 487h2v2h-2zM395 487h2v2h-2zM408 487h2v2h-2zM421 487h2v2h-2zM434 487h2v2h-2zM447 487h2v2h-2zM460 487h2v2h-2zM473 487h2v2h-2zM486 487h2v2h-2zM499 487h2v2h-2zM109 500h2v2h-2zM122 500h2v2h-2zM135 500h2v2h-2zM148 500h2v2h-2zM161 500h2v2h-2zM174 500h2v2h-2zM213 500h2v2h-2zM226 500h2v2h-2zM239 500h2v2h-2zM252 500h2v2h-2zM265 500h2v2h-2zM343 500h2v2h-2zM356 500h2v2h-2zM369 500h2v2h-2zM382 500h2v2h-2zM395 500h2v2h-2zM408 500h2v2h-2zM421 500h2v2h-2zM434 500h2v2h-2zM447 500h2v2h-2zM460 500h2v2h-2zM473 500h2v2h-2zM486 500h2v2h-2zM109 513h2v2h-2zM122 513h2v2h-2zM135 513h2v2h-2zM148 513h2v2h-2zM161 513h2v2h-2zM226 513h2v2h-2zM239 513h2v2h-2zM252 513h2v2h-2zM356 513h2v2h-2zM369 513h2v2h-2zM382 513h2v2h-2zM395 513h2v2h-2zM408 513h2v2h-2zM421 513h2v2h-2zM434 513h2v2h-2zM447 513h2v2h-2zM460 513h2v2h-2zM473 513h2v2h-2zM486 513h2v2h-2zM83 526h2v2h-2zM109 526h2v2h-2zM122 526h2v2h-2zM135 526h2v2h-2zM148 526h2v2h-2zM161 526h2v2h-2zM226 526h2v2h-2zM239 526h2v2h-2zM369 526h2v2h-2zM382 526h2v2h-2zM395 526h2v2h-2zM408 526h2v2h-2zM421 526h2v2h-2zM434 526h2v2h-2zM447 526h2v2h-2zM460 526h2v2h-2zM473 526h2v2h-2zM70 539h2v2h-2zM83 539h2v2h-2zM109 539h2v2h-2zM122 539h2v2h-2zM135 539h2v2h-2zM148 539h2v2h-2zM161 539h2v2h-2zM174 539h2v2h-2zM395 539h2v2h-2zM408 539h2v2h-2zM421 539h2v2h-2zM434 539h2v2h-2zM447 539h2v2h-2zM460 539h2v2h-2zM473 539h2v2h-2zM70 552h2v2h-2zM83 552h2v2h-2zM122 552h2v2h-2zM135 552h2v2h-2zM148 552h2v2h-2zM161 552h2v2h-2zM174 552h2v2h-2zM187 552h2v2h-2zM200 552h2v2h-2zM213 552h2v2h-2zM421 552h2v2h-2zM434 552h2v2h-2zM447 552h2v2h-2zM460 552h2v2h-2zM473 552h2v2h-2zM70 565h2v2h-2zM135 565h2v2h-2zM148 565h2v2h-2zM161 565h2v2h-2zM174 565h2v2h-2zM187 565h2v2h-2zM200 565h2v2h-2zM213 565h2v2h-2zM226 565h2v2h-2zM447 565h2v2h-2zM460 565h2v2h-2zM473 565h2v2h-2zM135 578h2v2h-2zM148 578h2v2h-2zM161 578h2v2h-2zM174 578h2v2h-2zM187 578h2v2h-2zM213 578h2v2h-2zM226 578h2v2h-2zM460 578h2v2h-2zM473 578h2v2h-2zM135 591h2v2h-2zM148 591h2v2h-2zM161 591h2v2h-2zM174 591h2v2h-2zM187 591h2v2h-2zM200 591h2v2h-2zM213 591h2v2h-2zM226 591h2v2h-2zM239 591h2v2h-2zM252 591h2v2h-2zM135 604h2v2h-2zM148 604h2v2h-2zM161 604h2v2h-2zM174 604h2v2h-2zM187 604h2v2h-2zM200 604h2v2h-2zM213 604h2v2h-2zM226 604h2v2h-2zM239 604h2v2h-2zM252 604h2v2h-2zM135 617h2v2h-2zM148 617h2v2h-2zM161 617h2v2h-2zM174 617h2v2h-2zM187 617h2v2h-2zM200 617h2v2h-2zM226 617h2v2h-2zM239 617h2v2h-2zM122 630h2v2h-2zM135 630h2v2h-2zM148 630h2v2h-2zM161 630h2v2h-2zM174 630h2v2h-2zM57 643h2v2h-2zM70 643h2v2h-2zM122 643h2v2h-2zM135 643h2v2h-2zM148 643h2v2h-2zM161 643h2v2h-2zM174 643h2v2h-2zM57 656h2v2h-2zM70 656h2v2h-2zM135 656h2v2h-2zM148 656h2v2h-2zM161 656h2v2h-2zM109 669h2v2h-2zM135 669h2v2h-2zM148 669h2v2h-2z" fill="#000"/>
<path d="M317 41h3v1h-3zM315 42h7v1h-7zM314 43h9v1h-9zM314 44h9v1h-9zM313 45h11v1h-11zM313 46h11v1h-11zM313 47h11v1h-11zM314 48h9v1h-9zM314 49h9v1h-9zM315 50h7v1h-7zM317 51h3v1h-3zM343 54h3v1h-3zM341 55h7v1h-7zM340 56h9v1h-9zM340 57h9v1h-9zM339 58h11v1h-11zM339 59h11v1h-11zM339 60h11v1h-11zM340 61h9v1h-9zM340 62h9v1h-9zM341 63h7v1h-7zM343 64h3v1h-3zM317 93h3v1h-3zM315 94h7v1h-7zM314 95h9v1h-9zM314 96h9v1h-9zM313 97h11v1h-11zM313 98h11v1h-11zM313 99h11v1h-11zM314 100h9v1h-9zM314 101h9v1h-9zM315 102h7v1h-7zM317 103h3v1h-3zM356 106h3v1h-3zM354 107h7v1h-7zM353 108h9v1h-9zM353 109h9v1h-9zM352 110h11v1h-11zM352 111h11v1h-11zM352 112h11v1h-11zM353 113h9v1h-9zM353 114h9v1h-9zM354 115h7v1h-7zM356 116h3v1h-3zM395 171h3v1h-3zM393 172h7v1h-7zM392 173h9v1h-9zM392 174h9v1h-9zM391 175h11v1h-11zM391 176h11v1h-11zM391 177h11v1h-11zM392 178h9v1h-9zM392 179h9v1h-9zM393 180h7v1h-7zM395 181h3v1h-3zM395 184h3v1h-3zM393 185h7v1h-7zM392 186h9v1h-9zM392 187h9v1h-9zM391 188h11v1h-11zM391 189h11v1h-11zM391 190h11v1h-11zM392 191h9v1h-9zM392 192h9v1h-9zM393 193h7v1h-7zM395 194h3v1h-3zM434 262h3v1h-3zM432 263h7v1h-7zM431 264h9v1h-9zM431 265h9v1h-9zM430 266h11v1h-11zM430 267h11v1h-11zM430 268h11v1h-11zM431 269h9v1h-9zM431 270h9v1h-9zM432 271h7v1h-7zM434 272h3v1h-3zM291 301h3v1h-3zM289 302h7v1h-7zM288 303h9v1h-9zM288 304h9v1h-9zM287 305h11v1h-11zM287 306h11v1h-11zM287 307h11v1h-11zM288 308h9v1h-9zM288 309h9v1h-9zM289 310h7v1h-7zM291 311h3v1h-3zM317 353h3v1h-3zM315 354h7v1h-7zM314 355h9v1h-9zM314 356h9v1h-9zM313 357h11v1h-11zM313 358h11v1h-11zM313 359h11v1h-11zM314 360h9v1h-9zM314 361h9v1h-9zM315 362h7v1h-7zM317 363h3v1h-3zM408 353h3v1h-3zM406 354h7v1h-7zM405 355h9v1h-9zM405 356h9v1h-9zM404 357h11v1h-11zM404 358h11v1h-11zM404 359h11v1h-11zM405 360h9v1h-9zM405 361h9v1h-9zM406 362h7v1h-7zM408 363h3v1h-3zM291 366h3v1h-3zM289 367h7v1h-7zM288 368h9v1h-9zM288 369h9v1h-9zM287 370h11v1h-11zM287 371h11v1h-11zM287 372h11v1h-11zM288 373h9v1h-9zM288 374h9v1h-9zM289 375h7v1h-7zM291 376h3v1h-3zM304 366h3v1h-3zM302 367h7v1h-7zM301 368h9v1h-9zM301 369h9v1h-9zM300 370h11v1h-11zM300 371h11v1h-11zM300 372h11v1h-11zM301 373h9v1h-9zM301 374h9v1h-9zM302 375h7v1h-7zM304 376h3v1h-3zM317 366h3v1h-3zM315 367h7v1h-7zM314 368h9v1h-9zM314 369h9v1h-9zM313 370h11v1h-11zM313 371h11v1h-11zM313 372h11v1h-11zM314 373h9v1h-9zM314 374h9v1h-9zM315 375h7v1h-7zM317 376h3v1h-3zM291 379h3v1h-3zM289 380h7v1h-7zM288 381h9v1h-9zM288 382h9v1h-9zM287 383h11v1h-11zM287 384h11v1h-11zM287 385h11v1h-11zM288 386h9v1h-9zM288 387h9v1h-9zM289 388h7v1h-7zM291 389h3v1h-3zM278 392h3v1h-3zM276 393h7v1h-7zM275 394h9v1h-9zM275 395h9v1h-9zM274 396h11v1h-11zM274 397h11v1h-11zM274 398h11v1h-11zM275 399h9v1h-9zM275 400h9v1h-9zM276 401h7v1h-7zM278 402h3v1h-3zM291 392h3v1h-3zM289 393h7v1h-7zM288 394h9v1h-9zM288 395h9v1h-9zM287 396h11v1h-11zM287 397h11v1h-11zM287 398h11v1h-11zM288 399h9v1h-9zM288 400h9v1h-9zM289 401h7v1h-7zM291 402h3v1h-3zM174 483h3v1h-3zM172 484h7v1h-7zM171 485h9v1h-9zM171 486h9v1h-9zM170 487h11v1h-11zM170 488h11v1h-11zM170 489h11v1h-11zM171 490h9v1h-9zM171 491h9v1h-9zM172 492h7v1h-7zM174 493h3v1h-3zM305 81h1v1h-1zM304 82h3v1h-3zM304 83h3v1h-3zM303 84h5v1h-5zM303 85h5v1h-5zM302 86h7v1h-7zM301 87h9v1h-9zM301 88h9v1h-9zM300 89h11v1h-11zM305 94h1v1h-1zM304 95h3v1h-3zM304 96h3v1h-3zM303 97h5v1h-5zM303 98h5v1h-5zM302 99h7v1h-7zM301 100h9v1h-9zM301 101h9v1h-9zM300 102h11v1h-11zM578 393h1v1h-1zM577 394h3v1h-3zM577 395h3v1h-3zM576 396h5v1h-5zM576 397h5v1h-5zM575 398h7v1h-7zM574 399h9v1h-9zM574 400h9v1h-9zM573 401h11v1h-11zM474 562h1v1h-1zM473 563h3v1h-3zM473 564h3v1h-3zM472 565h5v1h-5zM472 566h5v1h-5zM471 567h7v1h-7zM470 568h9v1h-9zM470 569h9v1h-9zM469 570h11v1h-11zM736 575h1v1h-1zM735 576h3v1h-3zM735 577h3v1h-3zM734 578h5v1h-5zM734 579h5v1h-5zM733 580h7v1h-7zM732 581h9v1h-9zM732 582h9v1h-9zM731 583h11v1h-11zM735 587h3v1h-3zM733 588h7v1h-7zM732 589h9v1h-9zM732 590h9v1h-9zM731 591h11v1h-11zM731 592h11v1h-11zM731 593h11v1h-11zM732 594h9v1h-9zM732 595h9v1h-9zM733 596h7v1h-7zM735 597h3v1h-3zM732 601h9v9h-9z" fill="#000"/>
<path d="M300 396h1v1h-1zM300 397h1v1h-1zM300 398h1v1h-1zM301 394h1v1h-1zM301 395h1v1h-1zM301 399h1v1h-1zM301 400h1v1h-1zM302 393h1v1h-1zM302 401h1v1h-1zM303 393h1v1h-1zM303 401h1v1h-1zM304 392h1v1h-1zM304 402h1v1h-1zM305 392h1v1h-1zM305 402h1v1h-1zM306 392h1v1h-1zM306 402h1v1h-1zM307 393h1v1h-1zM307 401h1v1h-1zM308 393h1v1h-1zM308 401h1v1h-1zM309 394h1v1h-1zM309 395h1v1h-1zM309 399h1v1h-1zM309 400h1v1h-1zM310 396h1v1h-1zM310 397h1v1h-1zM310 398h1v1h-1zM196 578h1v1h-1zM196 579h1v1h-1zM196 580h1v1h-1zM197 576h1v1h-1zM197 577h1v1h-1zM197 581h1v1h-1zM197 582h1v1h-1zM198 575h1v1h-1zM198 583h1v1h-1zM199 575h1v1h-1zM199 583h1v1h-1zM200 574h1v1h-1zM200 584h1v1h-1zM201 574h1v1h-1zM201 584h1v1h-1zM202 574h1v1h-1zM202 584h1v1h-1zM203 575h1v1h-1zM203 583h1v1h-1zM204 575h1v1h-1zM204 583h1v1h-1zM205 576h1v1h-1zM205 577h1v1h-1zM205 581h1v1h-1zM205 582h1v1h-1zM206 578h1v1h-1zM206 579h1v1h-1zM206 580h1v1h-1zM300 362h1v1h-1zM301 360h1v1h-1zM301 361h1v1h-1zM301 362h1v1h-1zM302 359h1v1h-1zM302 362h1v1h-1zM303 357h1v1h-1zM303 358h1v1h-1zM303 362h1v1h-1zM304 355h1v1h-1zM304 356h1v1h-1zM304 362h1v1h-1zM305 354h1v1h-1zM305 362h1v1h-1zM306 355h1v1h-1zM306 356h1v1h-1zM306 362h1v1h-1zM307 357h1v1h-1zM307 358h1v1h-1zM307 362h1v1h-1zM308 359h1v1h-1zM308 362h1v1h-1zM309 360h1v1h-1zM309 361h1v1h-1zM309 362h1v1h-1zM310 362h1v1h-1zM731 544h1v1h-1zM732 542h1v1h-1zM732 543h1v1h-1zM732 544h1v1h-1zM733 541h1v1h-1zM733 544h1v1h-1zM734 539h1v1h-1zM734 540h1v1h-1zM734 544h1v1h-1zM735 537h1v1h-1zM735 538h1v1h-1zM735 544h1v1h-1zM736 536h1v1h-1zM736 544h1v1h-1zM737 537h1v1h-1zM737 538h1v1h-1zM737 544h1v1h-1zM738 539h1v1h-1zM738 540h1v1h-1zM738 544h1v1h-1zM739 541h1v1h-1zM739 544h1v1h-1zM740 542h1v1h-1zM740 543h1v1h-1zM740 544h1v1h-1zM741 544h1v1h-1zM731 552h1v1h-1zM731 553h1v1h-1zM731 554h1v1h-1zM732 550h1v1h-1zM732 551h1v1h-1zM732 555h1v1h-1zM732 556h1v1h-1zM733 549h1v1h-1zM733 557h1v1h-1zM734 549h1v1h-1zM734 557h1v1h-1zM735 548h1v1h-1zM735 558h1v1h-1zM736 548h1v1h-1zM736 558h1v1h-1zM737 548h1v1h-1zM737 558h1v1h-1zM738 549h1v1h-1zM738 557h1v1h-1zM739 549h1v1h-1zM739 557h1v1h-1zM740 550h1v1h-1zM740 551h1v1h-1zM740 555h1v1h-1zM740 556h1v1h-1zM741 552h1v1h-1zM741 553h1v1h-1zM741 554h1v1h-1zM732 562h9v1h-9zM732 570h9v1h-9zM732 562h1v9h-1zM740 562h1v9h-1zM736 524h1v1h-1zM736 525h1v1h-1zM736 526h1v1h-1zM736 527h1v1h-1zM736 528h1v1h-1zM736 529h1v1h-1zM736 530h1v1h-1zM732 525h1v1h-1zM733 525h1v1h-1zM739 525h1v1h-1zM740 525h1v1h-1zM734 526h1v1h-1zM738 526h1v1h-1zM735 527h1v1h-1zM737 527h1v1h-1zM734 528h1v1h-1zM738 528h1v1h-1zM732 529h1v1h-1zM733 529h1v1h-1zM739 529h1v1h-1zM740 529h1v1h-1z" fill="#000"/>
<path d="M120 50h1v1h-1zM121 50h1v1h-1zM125 50h1v1h-1zM126 50h1v1h-1zM120 51h1v1h-1zM121 51h1v1h-1zM122 51h1v1h-1zM125 51h1v1h-1zM126 51h1v1h-1zM120 52h1v1h-1zM121 52h1v1h-1zM122 52h1v1h-1zM123 52h1v1h-1zM125 52h1v1h-1zM126 52h1v1h-1zM120 53h1v1h-1zM121 53h1v1h-1zM123 53h1v1h-1zM124 53h1v1h-1zM125 53h1v1h-1zM126 53h1v1h-1zM120 54h1v1h-1zM121 54h1v1h-1zM124 54h1v1h-1zM125 54h1v1h-1zM126 54h1v1h-1zM120 55h1v1h-1zM121 55h1v1h-1zM125 55h1v1h-1zM126 55h1v1h-1zM120 56h1v1h-1zM121 56h1v1h-1zM125 56h1v1h-1zM126 56h1v1h-1zM135 50h1v1h-1zM136 50h1v1h-1zM137 50h1v1h-1zM134 51h1v1h-1zM135 51h1v1h-1zM136 51h1v1h-1zM137 51h1v1h-1zM133 52h1v1h-1zM134 52h1v1h-1zM136 52h1v1h-1zM137 52h1v1h-1zM132 53h1v1h-1zM133 53h1v1h-1zM136 53h1v1h-1zM137 53h1v1h-1zM132 54h1v1h-1zM133 54h1v1h-1zM134 54h1v1h-1zM135 54h1v1h-1zM136 54h1v1h-1zM137 54h1v1h-1zM138 54h1v1h-1zM136 55h1v1h-1zM137 55h1v1h-1zM136 56h1v1h-1zM137 56h1v1h-1zM144 50h1v1h-1zM145 50h1v1h-1zM146 50h1v1h-1zM147 50h1v1h-1zM148 50h1v1h-1zM149 50h1v1h-1zM150 50h1v1h-1zM144 51h1v1h-1zM145 51h1v1h-1zM144 52h1v1h-1zM145 52h1v1h-1zM146 52h1v1h-1zM147 52h1v1h-1zM148 52h1v1h-1zM149 52h1v1h-1zM149 53h1v1h-1zM150 53h1v1h-1zM149 54h1v1h-1zM150 54h1v1h-1zM144 55h1v1h-1zM145 55h1v1h-1zM149 55h1v1h-1zM150 55h1v1h-1zM145 56h1v1h-1zM146 56h1v1h-1zM147 56h1v1h-1zM148 56h1v1h-1zM149 56h1v1h-1zM155 49h1v1h-1zM156 49h1v1h-1zM154 50h1v1h-1zM155 50h1v1h-1zM156 50h1v1h-1zM157 50h1v1h-1zM155 51h1v1h-1zM156 51h1v1h-1zM169 50h1v1h-1zM170 50h1v1h-1zM171 50h1v1h-1zM172 50h1v1h-1zM173 50h1v1h-1zM168 51h1v1h-1zM169 51h1v1h-1zM173 51h1v1h-1zM174 51h1v1h-1zM173 52h1v1h-1zM174 52h1v1h-1zM171 53h1v1h-1zM172 53h1v1h-1zM173 53h1v1h-1zM169 54h1v1h-1zM170 54h1v1h-1zM171 54h1v1h-1zM168 55h1v1h-1zM169 55h1v1h-1zM168 56h1v1h-1zM169 56h1v1h-1zM170 56h1v1h-1zM171 56h1v1h-1zM172 56h1v1h-1zM173 56h1v1h-1zM174 56h1v1h-1zM181 50h1v1h-1zM182 50h1v1h-1zM183 50h1v1h-1zM184 50h1v1h-1zM185 50h1v1h-1zM180 51h1v1h-1zM181 51h1v1h-1zM185 51h1v1h-1zM186 51h1v1h-1zM180 52h1v1h-1zM181 52h1v1h-1zM185 52h1v1h-1zM186 52h1v1h-1zM180 53h1v1h-1zM181 53h1v1h-1zM185 53h1v1h-1zM186 53h1v1h-1zM180 54h1v1h-1zM181 54h1v1h-1zM185 54h1v1h-1zM186 54h1v1h-1zM180 55h1v1h-1zM181 55h1v1h-1zM185 55h1v1h-1zM186 55h1v1h-1zM181 56h1v1h-1zM182 56h1v1h-1zM183 56h1v1h-1zM184 56h1v1h-1zM185 56h1v1h-1zM192 49h1v1h-1zM193 49h1v1h-1zM191 50h1v1h-1zM192 50h1v1h-1zM160 152h1v1h-1zM161 152h1v1h-1zM165 152h1v1h-1zM166 152h1v1h-1zM160 153h1v1h-1zM161 153h1v1h-1zM162 153h1v1h-1zM165 153h1v1h-1zM166 153h1v1h-1zM160 154h1v1h-1zM161 154h1v1h-1zM162 154h1v1h-1zM163 154h1v1h-1zM165 154h1v1h-1zM166 154h1v1h-1zM160 155h1v1h-1zM161 155h1v1h-1zM163 155h1v1h-1zM164 155h1v1h-1zM165 155h1v1h-1zM166 155h1v1h-1zM160 156h1v1h-1zM161 156h1v1h-1zM164 156h1v1h-1zM165 156h1v1h-1zM166 156h1v1h-1zM160 157h1v1h-1zM161 157h1v1h-1zM165 157h1v1h-1zM166 157h1v1h-1zM160 158h1v1h-1zM161 158h1v1h-1zM165 158h1v1h-1zM166 158h1v1h-1zM175 152h1v1h-1zM176 152h1v1h-1zM177 152h1v1h-1zM174 153h1v1h-1zM175 153h1v1h-1zM176 153h1v1h-1zM177 153h1v1h-1zM173 154h1v1h-1zM174 154h1v1h-1zM176 154h1v1h-1zM177 154h1v1h-1zM172 155h1v1h-1zM173 155h1v1h-1zM176 155h1v1h-1zM177 155h1v1h-1zM172 156h1v1h-1zM173 156h1v1h-1zM174 156h1v1h-1zM175 156h1v1h-1zM176 156h1v1h-1zM177 156h1v1h-1zM178 156h1v1h-1zM176 157h1v1h-1zM177 157h1v1h-1zM176 158h1v1h-1zM177 158h1v1h-1zM187 152h1v1h-1zM188 152h1v1h-1zM189 152h1v1h-1zM186 153h1v1h-1zM187 153h1v1h-1zM188 153h1v1h-1zM189 153h1v1h-1zM185 154h1v1h-1zM186 154h1v1h-1zM188 154h1v1h-1zM189 154h1v1h-1zM184 155h1v1h-1zM185 155h1v1h-1zM188 155h1v1h-1zM189 155h1v1h-1zM184 156h1v1h-1zM185 156h1v1h-1zM186 156h1v1h-1zM187 156h1v1h-1zM188 156h1v1h-1zM189 156h1v1h-1zM190 156h1v1h-1zM188 157h1v1h-1zM189 157h1v1h-1zM188 158h1v1h-1zM189 158h1v1h-1zM195 151h1v1h-1zM196 151h1v1h-1zM194 152h1v1h-1zM195 152h1v1h-1zM196 152h1v1h-1zM197 152h1v1h-1zM195 153h1v1h-1zM196 153h1v1h-1zM211 152h1v1h-1zM212 152h1v1h-1zM213 152h1v1h-1zM210 153h1v1h-1zM211 153h1v1h-1zM212 153h1v1h-1zM213 153h1v1h-1zM209 154h1v1h-1zM210 154h1v1h-1zM212 154h1v1h-1zM213 154h1v1h-1zM208 155h1v1h-1zM209 155h1v1h-1zM212 155h1v1h-1zM213 155h1v1h-1zM208 156h1v1h-1zM209 156h1v1h-1zM210 156h1v1h-1zM211 156h1v1h-1zM212 156h1v1h-1zM213 156h1v1h-1zM214 156h1v1h-1zM212 157h1v1h-1zM213 157h1v1h-1zM212 158h1v1h-1zM213 158h1v1h-1zM221 152h1v1h-1zM222 152h1v1h-1zM223 152h1v1h-1zM224 152h1v1h-1zM225 152h1v1h-1zM220 153h1v1h-1zM221 153h1v1h-1zM225 153h1v1h-1zM226 153h1v1h-1zM220 154h1v1h-1zM221 154h1v1h-1zM225 154h1v1h-1zM226 154h1v1h-1zM220 155h1v1h-1zM221 155h1v1h-1zM225 155h1v1h-1zM226 155h1v1h-1zM220 156h1v1h-1zM221 156h1v1h-1zM225 156h1v1h-1zM226 156h1v1h-1zM220 157h1v1h-1zM221 157h1v1h-1zM225 157h1v1h-1zM226 157h1v1h-1zM221 158h1v1h-1zM222 158h1v1h-1zM223 158h1v1h-1zM224 158h1v1h-1zM225 158h1v1h-1zM232 151h1v1h-1zM233 151h1v1h-1zM231 152h1v1h-1zM232 152h1v1h-1zM156 258h1v1h-1zM157 258h1v1h-1zM161 258h1v1h-1zM162 258h1v1h-1zM156 259h1v1h-1zM157 259h1v1h-1zM158 259h1v1h-1zM161 259h1v1h-1zM162 259h1v1h-1zM156 260h1v1h-1zM157 260h1v1h-1zM158 260h1v1h-1zM159 260h1v1h-1zM161 260h1v1h-1zM162 260h1v1h-1zM156 261h1v1h-1zM157 261h1v1h-1zM159 261h1v1h-1zM160 261h1v1h-1zM161 261h1v1h-1zM162 261h1v1h-1zM156 262h1v1h-1zM157 262h1v1h-1zM160 262h1v1h-1zM161 262h1v1h-1zM162 262h1v1h-1zM156 263h1v1h-1zM157 263h1v1h-1zM161 263h1v1h-1zM162 263h1v1h-1zM156 264h1v1h-1zM157 264h1v1h-1zM161 264h1v1h-1zM162 264h1v1h-1zM171 258h1v1h-1zM172 258h1v1h-1zM173 258h1v1h-1zM170 259h1v1h-1zM171 259h1v1h-1zM172 259h1v1h-1zM173 259h1v1h-1zM169 260h1v1h-1zM170 260h1v1h-1zM172 260h1v1h-1zM173 260h1v1h-1zM168 261h1v1h-1zM169 261h1v1h-1zM172 261h1v1h-1zM173 261h1v1h-1zM168 262h1v1h-1zM169 262h1v1h-1zM170 262h1v1h-1zM171 262h1v1h-1zM172 262h1v1h-1zM173 262h1v1h-1zM174 262h1v1h-1zM172 263h1v1h-1zM173 263h1v1h-1zM172 264h1v1h-1zM173 264h1v1h-1zM183 258h1v1h-1zM184 258h1v1h-1zM185 258h1v1h-1zM182 259h1v1h-1zM183 259h1v1h-1zM184 259h1v1h-1zM185 259h1v1h-1zM181 260h1v1h-1zM182 260h1v1h-1zM184 260h1v1h-1zM185 260h1v1h-1zM180 261h1v1h-1zM181 261h1v1h-1zM184 261h1v1h-1zM185 261h1v1h-1zM180 262h1v1h-1zM181 262h1v1h-1zM182 262h1v1h-1zM183 262h1v1h-1zM184 262h1v1h-1zM185 262h1v1h-1zM186 262h1v1h-1zM184 263h1v1h-1zM185 263h1v1h-1zM184 264h1v1h-1zM185 264h1v1h-1zM191 257h1v1h-1zM192 257h1v1h-1zM190 258h1v1h-1zM191 258h1v1h-1zM192 258h1v1h-1zM193 258h1v1h-1zM191 259h1v1h-1zM192 259h1v1h-1zM205 258h1v1h-1zM206 258h1v1h-1zM207 258h1v1h-1zM208 258h1v1h-1zM209 258h1v1h-1zM204 259h1v1h-1zM205 259h1v1h-1zM209 259h1v1h-1zM210 259h1v1h-1zM204 260h1v1h-1zM205 260h1v1h-1zM209 260h1v1h-1zM210 260h1v1h-1zM204 261h1v1h-1zM205 261h1v1h-1zM209 261h1v1h-1zM210 261h1v1h-1zM204 262h1v1h-1zM205 262h1v1h-1zM209 262h1v1h-1zM210 262h1v1h-1zM204 263h1v1h-1zM205 263h1v1h-1zM209 263h1v1h-1zM210 263h1v1h-1zM205 264h1v1h-1zM206 264h1v1h-1zM207 264h1v1h-1zM208 264h1v1h-1zM209 264h1v1h-1zM217 258h1v1h-1zM218 258h1v1h-1zM219 258h1v1h-1zM220 258h1v1h-1zM221 258h1v1h-1zM216 259h1v1h-1zM217 259h1v1h-1zM221 259h1v1h-1zM222 259h1v1h-1zM216 260h1v1h-1zM217 260h1v1h-1zM221 260h1v1h-1zM222 260h1v1h-1zM216 261h1v1h-1zM217 261h1v1h-1zM221 261h1v1h-1zM222 261h1v1h-1zM216 262h1v1h-1zM217 262h1v1h-1zM221 262h1v1h-1zM222 262h1v1h-1zM216 263h1v1h-1zM217 263h1v1h-1zM221 263h1v1h-1zM222 263h1v1h-1zM217 264h1v1h-1zM218 264h1v1h-1zM219 264h1v1h-1zM220 264h1v1h-1zM221 264h1v1h-1zM228 257h1v1h-1zM229 257h1v1h-1zM227 258h1v1h-1zM228 258h1v1h-1zM15 362h1v1h-1zM16 362h1v1h-1zM20 362h1v1h-1zM21 362h1v1h-1zM15 363h1v1h-1zM16 363h1v1h-1zM17 363h1v1h-1zM20 363h1v1h-1zM21 363h1v1h-1zM15 364h1v1h-1zM16 364h1v1h-1zM17 364h1v1h-1zM18 364h1v1h-1zM20 364h1v1h-1zM21 364h1v1h-1zM15 365h1v1h-1zM16 365h1v1h-1zM18 365h1v1h-1zM19 365h1v1h-1zM20 365h1v1h-1zM21 365h1v1h-1zM15 366h1v1h-1zM16 366h1v1h-1zM19 366h1v1h-1zM20 366h1v1h-1zM21 366h1v1h-1zM15 367h1v1h-1zM16 367h1v1h-1zM20 367h1v1h-1zM21 367h1v1h-1zM15 368h1v1h-1zM16 368h1v1h-1zM20 368h1v1h-1zM21 368h1v1h-1zM30 362h1v1h-1zM31 362h1v1h-1zM32 362h1v1h-1zM29 363h1v1h-1zM30 363h1v1h-1zM31 363h1v1h-1zM32 363h1v1h-1zM28 364h1v1h-1zM29 364h1v1h-1zM31 364h1v1h-1zM32 364h1v1h-1zM27 365h1v1h-1zM28 365h1v1h-1zM31 365h1v1h-1zM32 365h1v1h-1zM27 366h1v1h-1zM28 366h1v1h-1zM29 366h1v1h-1zM30 366h1v1h-1zM31 366h1v1h-1zM32 366h1v1h-1zM33 366h1v1h-1zM31 367h1v1h-1zM32 367h1v1h-1zM31 368h1v1h-1zM32 368h1v1h-1zM40 362h1v1h-1zM41 362h1v1h-1zM42 362h1v1h-1zM43 362h1v1h-1zM44 362h1v1h-1zM39 363h1v1h-1zM40 363h1v1h-1zM44 363h1v1h-1zM45 363h1v1h-1zM44 364h1v1h-1zM45 364h1v1h-1zM41 365h1v1h-1zM42 365h1v1h-1zM43 365h1v1h-1zM44 365h1v1h-1zM44 366h1v1h-1zM45 366h1v1h-1zM39 367h1v1h-1zM40 367h1v1h-1zM44 367h1v1h-1zM45 367h1v1h-1zM40 368h1v1h-1zM41 368h1v1h-1zM42 368h1v1h-1zM43 368h1v1h-1zM44 368h1v1h-1zM50 361h1v1h-1zM51 361h1v1h-1zM49 362h1v1h-1zM50 362h1v1h-1zM51 362h1v1h-1zM52 362h1v1h-1zM50 363h1v1h-1zM51 363h1v1h-1zM64 362h1v1h-1zM65 362h1v1h-1zM66 362h1v1h-1zM67 362h1v1h-1zM68 362h1v1h-1zM63 363h1v1h-1zM64 363h1v1h-1zM68 363h1v1h-1zM69 363h1v1h-1zM68 364h1v1h-1zM69 364h1v1h-1zM66 365h1v1h-1zM67 365h1v1h-1zM68 365h1v1h-1zM64 366h1v1h-1zM65 366h1v1h-1zM66 366h1v1h-1zM63 367h1v1h-1zM64 367h1v1h-1zM63 368h1v1h-1zM64 368h1v1h-1zM65 368h1v1h-1zM66 368h1v1h-1zM67 368h1v1h-1zM68 368h1v1h-1zM69 368h1v1h-1zM76 362h1v1h-1zM77 362h1v1h-1zM78 362h1v1h-1zM79 362h1v1h-1zM80 362h1v1h-1zM75 363h1v1h-1zM76 363h1v1h-1zM80 363h1v1h-1zM81 363h1v1h-1zM75 364h1v1h-1zM76 364h1v1h-1zM80 364h1v1h-1zM81 364h1v1h-1zM75 365h1v1h-1zM76 365h1v1h-1zM80 365h1v1h-1zM81 365h1v1h-1zM75 366h1v1h-1zM76 366h1v1h-1zM80 366h1v1h-1zM81 366h1v1h-1zM75 367h1v1h-1zM76 367h1v1h-1zM80 367h1v1h-1zM81 367h1v1h-1zM76 368h1v1h-1zM77 368h1v1h-1zM78 368h1v1h-1zM79 368h1v1h-1zM80 368h1v1h-1zM87 361h1v1h-1zM88 361h1v1h-1zM86 362h1v1h-1zM87 362h1v1h-1zM675 468h1v1h-1zM676 468h1v1h-1zM680 468h1v1h-1zM681 468h1v1h-1zM675 469h1v1h-1zM676 469h1v1h-1zM677 469h1v1h-1zM680 469h1v1h-1zM681 469h1v1h-1zM675 470h1v1h-1zM676 470h1v1h-1zM677 470h1v1h-1zM678 470h1v1h-1zM680 470h1v1h-1zM681 470h1v1h-1zM675 471h1v1h-1zM676 471h1v1h-1zM678 471h1v1h-1zM679 471h1v1h-1zM680 471h1v1h-1zM681 471h1v1h-1zM675 472h1v1h-1zM676 472h1v1h-1zM679 472h1v1h-1zM680 472h1v1h-1zM681 472h1v1h-1zM675 473h1v1h-1zM676 473h1v1h-1zM680 473h1v1h-1zM681 473h1v1h-1zM675 474h1v1h-1zM676 474h1v1h-1zM680 474h1v1h-1zM681 474h1v1h-1zM690 468h1v1h-1zM691 468h1v1h-1zM692 468h1v1h-1zM689 469h1v1h-1zM690 469h1v1h-1zM691 469h1v1h-1zM692 469h1v1h-1zM688 470h1v1h-1zM689 470h1v1h-1zM691 470h1v1h-1zM692 470h1v1h-1zM687 471h1v1h-1zM688 471h1v1h-1zM691 471h1v1h-1zM692 471h1v1h-1zM687 472h1v1h-1zM688 472h1v1h-1zM689 472h1v1h-1zM690 472h1v1h-1zM691 472h1v1h-1zM692 472h1v1h-1zM693 472h1v1h-1zM691 473h1v1h-1zM692 473h1v1h-1zM691 474h1v1h-1zM692 474h1v1h-1zM700 468h1v1h-1zM701 468h1v1h-1zM702 468h1v1h-1zM703 468h1v1h-1zM704 468h1v1h-1zM699 469h1v1h-1zM700 469h1v1h-1zM704 469h1v1h-1zM705 469h1v1h-1zM704 470h1v1h-1zM705 470h1v1h-1zM702 471h1v1h-1zM703 471h1v1h-1zM704 471h1v1h-1zM700 472h1v1h-1zM701 472h1v1h-1zM702 472h1v1h-1zM699 473h1v1h-1zM700 473h1v1h-1zM699 474h1v1h-1zM700 474h1v1h-1zM701 474h1v1h-1zM702 474h1v1h-1zM703 474h1v1h-1zM704 474h1v1h-1zM705 474h1v1h-1zM710 467h1v1h-1zM711 467h1v1h-1zM709 468h1v1h-1zM710 468h1v1h-1zM711 468h1v1h-1zM712 468h1v1h-1zM710 469h1v1h-1zM711 469h1v1h-1zM726 468h1v1h-1zM727 468h1v1h-1zM728 468h1v1h-1zM725 469h1v1h-1zM726 469h1v1h-1zM727 469h1v1h-1zM728 469h1v1h-1zM724 470h1v1h-1zM725 470h1v1h-1zM727 470h1v1h-1zM728 470h1v1h-1zM723 471h1v1h-1zM724 471h1v1h-1zM727 471h1v1h-1zM728 471h1v1h-1zM723 472h1v1h-1zM724 472h1v1h-1zM725 472h1v1h-1zM726 472h1v1h-1zM727 472h1v1h-1zM728 472h1v1h-1zM729 472h1v1h-1zM727 473h1v1h-1zM728 473h1v1h-1zM727 474h1v1h-1zM728 474h1v1h-1zM736 468h1v1h-1zM737 468h1v1h-1zM738 468h1v1h-1zM739 468h1v1h-1zM740 468h1v1h-1zM735 469h1v1h-1zM736 469h1v1h-1zM740 469h1v1h-1zM741 469h1v1h-1zM735 470h1v1h-1zM736 470h1v1h-1zM740 470h1v1h-1zM741 470h1v1h-1zM735 471h1v1h-1zM736 471h1v1h-1zM740 471h1v1h-1zM741 471h1v1h-1zM735 472h1v1h-1zM736 472h1v1h-1zM740 472h1v1h-1zM741 472h1v1h-1zM735 473h1v1h-1zM736 473h1v1h-1zM740 473h1v1h-1zM741 473h1v1h-1zM736 474h1v1h-1zM737 474h1v1h-1zM738 474h1v1h-1zM739 474h1v1h-1zM740 474h1v1h-1zM747 467h1v1h-1zM748 467h1v1h-1zM746 468h1v1h-1zM747 468h1v1h-1zM588 572h1v1h-1zM589 572h1v1h-1zM593 572h1v1h-1zM594 572h1v1h-1zM588 573h1v1h-1zM589 573h1v1h-1zM590 573h1v1h-1zM593 573h1v1h-1zM594 573h1v1h-1zM588 574h1v1h-1zM589 574h1v1h-1zM590 574h1v1h-1zM591 574h1v1h-1zM593 574h1v1h-1zM594 574h1v1h-1zM588 575h1v1h-1zM589 575h1v1h-1zM591 575h1v1h-1zM592 575h1v1h-1zM593 575h1v1h-1zM594 575h1v1h-1zM588 576h1v1h-1zM589 576h1v1h-1zM592 576h1v1h-1zM593 576h1v1h-1zM594 576h1v1h-1zM588 577h1v1h-1zM589 577h1v1h-1zM593 577h1v1h-1zM594 577h1v1h-1zM588 578h1v1h-1zM589 578h1v1h-1zM593 578h1v1h-1zM594 578h1v1h-1zM603 572h1v1h-1zM604 572h1v1h-1zM605 572h1v1h-1zM602 573h1v1h-1zM603 573h1v1h-1zM604 573h1v1h-1zM605 573h1v1h-1zM601 574h1v1h-1zM602 574h1v1h-1zM604 574h1v1h-1zM605 574h1v1h-1zM600 575h1v1h-1zM601 575h1v1h-1zM604 575h1v1h-1zM605 575h1v1h-1zM600 576h1v1h-1zM601 576h1v1h-1zM602 576h1v1h-1zM603 576h1v1h-1zM604 576h1v1h-1zM605 576h1v1h-1zM606 576h1v1h-1zM604 577h1v1h-1zM605 577h1v1h-1zM604 578h1v1h-1zM605 578h1v1h-1zM613 572h1v1h-1zM614 572h1v1h-1zM615 572h1v1h-1zM616 572h1v1h-1zM617 572h1v1h-1zM612 573h1v1h-1zM613 573h1v1h-1zM617 573h1v1h-1zM618 573h1v1h-1zM617 574h1v1h-1zM618 574h1v1h-1zM615 575h1v1h-1zM616 575h1v1h-1zM617 575h1v1h-1zM613 576h1v1h-1zM614 576h1v1h-1zM615 576h1v1h-1zM612 577h1v1h-1zM613 577h1v1h-1zM612 578h1v1h-1zM613 578h1v1h-1zM614 578h1v1h-1zM615 578h1v1h-1zM616 578h1v1h-1zM617 578h1v1h-1zM618 578h1v1h-1zM623 571h1v1h-1zM624 571h1v1h-1zM622 572h1v1h-1zM623 572h1v1h-1zM624 572h1v1h-1zM625 572h1v1h-1zM623 573h1v1h-1zM624 573h1v1h-1zM637 572h1v1h-1zM638 572h1v1h-1zM639 572h1v1h-1zM640 572h1v1h-1zM641 572h1v1h-1zM636 573h1v1h-1zM637 573h1v1h-1zM641 573h1v1h-1zM642 573h1v1h-1zM636 574h1v1h-1zM637 574h1v1h-1zM641 574h1v1h-1zM642 574h1v1h-1zM636 575h1v1h-1zM637 575h1v1h-1zM641 575h1v1h-1zM642 575h1v1h-1zM636 576h1v1h-1zM637 576h1v1h-1zM641 576h1v1h-1zM642 576h1v1h-1zM636 577h1v1h-1zM637 577h1v1h-1zM641 577h1v1h-1zM642 577h1v1h-1zM637 578h1v1h-1zM638 578h1v1h-1zM639 578h1v1h-1zM640 578h1v1h-1zM641 578h1v1h-1zM649 572h1v1h-1zM650 572h1v1h-1zM651 572h1v1h-1zM652 572h1v1h-1zM653 572h1v1h-1zM648 573h1v1h-1zM649 573h1v1h-1zM653 573h1v1h-1zM654 573h1v1h-1zM648 574h1v1h-1zM649 574h1v1h-1zM653 574h1v1h-1zM654 574h1v1h-1zM648 575h1v1h-1zM649 575h1v1h-1zM653 575h1v1h-1zM654 575h1v1h-1zM648 576h1v1h-1zM649 576h1v1h-1zM653 576h1v1h-1zM654 576h1v1h-1zM648 577h1v1h-1zM649 577h1v1h-1zM653 577h1v1h-1zM654 577h1v1h-1zM649 578h1v1h-1zM650 578h1v1h-1zM651 578h1v1h-1zM652 578h1v1h-1zM653 578h1v1h-1zM660 571h1v1h-1zM661 571h1v1h-1zM659 572h1v1h-1zM660 572h1v1h-1zM276 676h1v1h-1zM277 676h1v1h-1zM281 676h1v1h-1zM282 676h1v1h-1zM276 677h1v1h-1zM277 677h1v1h-1zM278 677h1v1h-1zM281 677h1v1h-1zM282 677h1v1h-1zM276 678h1v1h-1zM277 678h1v1h-1zM278 678h1v1h-1zM279 678h1v1h-1zM281 678h1v1h-1zM282 678h1v1h-1zM276 679h1v1h-1zM277 679h1v1h-1zM279 679h1v1h-1zM280 679h1v1h-1zM281 679h1v1h-1zM282 679h1v1h-1zM276 680h1v1h-1zM277 680h1v1h-1zM280 680h1v1h-1zM281 680h1v1h-1zM282 680h1v1h-1zM276 681h1v1h-1zM277 681h1v1h-1zM281 681h1v1h-1zM282 681h1v1h-1zM276 682h1v1h-1zM277 682h1v1h-1zM281 682h1v1h-1zM282 682h1v1h-1zM291 676h1v1h-1zM292 676h1v1h-1zM293 676h1v1h-1zM290 677h1v1h-1zM291 677h1v1h-1zM292 677h1v1h-1zM293 677h1v1h-1zM289 678h1v1h-1zM290 678h1v1h-1zM292 678h1v1h-1zM293 678h1v1h-1zM288 679h1v1h-1zM289 679h1v1h-1zM292 679h1v1h-1zM293 679h1v1h-1zM288 680h1v1h-1zM289 680h1v1h-1zM290 680h1v1h-1zM291 680h1v1h-1zM292 680h1v1h-1zM293 680h1v1h-1zM294 680h1v1h-1zM292 681h1v1h-1zM293 681h1v1h-1zM292 682h1v1h-1zM293 682h1v1h-1zM303 676h1v1h-1zM304 676h1v1h-1zM301 677h1v1h-1zM302 677h1v1h-1zM303 677h1v1h-1zM304 677h1v1h-1zM303 678h1v1h-1zM304 678h1v1h-1zM303 679h1v1h-1zM304 679h1v1h-1zM303 680h1v1h-1zM304 680h1v1h-1zM303 681h1v1h-1zM304 681h1v1h-1zM303 682h1v1h-1zM304 682h1v1h-1zM311 675h1v1h-1zM312 675h1v1h-1zM310 676h1v1h-1zM311 676h1v1h-1zM312 676h1v1h-1zM313 676h1v1h-1zM311 677h1v1h-1zM312 677h1v1h-1zM325 676h1v1h-1zM326 676h1v1h-1zM327 676h1v1h-1zM328 676h1v1h-1zM329 676h1v1h-1zM324 677h1v1h-1zM325 677h1v1h-1zM329 677h1v1h-1zM330 677h1v1h-1zM329 678h1v1h-1zM330 678h1v1h-1zM327 679h1v1h-1zM328 679h1v1h-1zM329 679h1v1h-1zM325 680h1v1h-1zM326 680h1v1h-1zM327 680h1v1h-1zM324 681h1v1h-1zM325 681h1v1h-1zM324 682h1v1h-1zM325 682h1v1h-1zM326 682h1v1h-1zM327 682h1v1h-1zM328 682h1v1h-1zM329 682h1v1h-1zM330 682h1v1h-1zM337 676h1v1h-1zM338 676h1v1h-1zM339 676h1v1h-1zM340 676h1v1h-1zM341 676h1v1h-1zM336 677h1v1h-1zM337 677h1v1h-1zM341 677h1v1h-1zM342 677h1v1h-1zM336 678h1v1h-1zM337 678h1v1h-1zM341 678h1v1h-1zM342 678h1v1h-1zM336 679h1v1h-1zM337 679h1v1h-1zM341 679h1v1h-1zM342 679h1v1h-1zM336 680h1v1h-1zM337 680h1v1h-1zM341 680h1v1h-1zM342 680h1v1h-1zM336 681h1v1h-1zM337 681h1v1h-1zM341 681h1v1h-1zM342 681h1v1h-1zM337 682h1v1h-1zM338 682h1v1h-1zM339 682h1v1h-1zM340 682h1v1h-1zM341 682h1v1h-1zM348 675h1v1h-1zM349 675h1v1h-1zM347 676h1v1h-1zM348 676h1v1h-1zM127 336h1v1h-1zM127 335h1v1h-1zM127 334h1v1h-1zM127 333h1v1h-1zM127 332h1v1h-1zM127 331h1v1h-1zM127 330h1v1h-1zM128 336h1v1h-1zM128 335h1v1h-1zM129 336h1v1h-1zM129 335h1v1h-1zM130 336h1v1h-1zM130 335h1v1h-1zM130 334h1v1h-1zM130 333h1v1h-1zM130 332h1v1h-1zM130 331h1v1h-1zM131 336h1v1h-1zM131 335h1v1h-1zM132 336h1v1h-1zM132 335h1v1h-1zM133 336h1v1h-1zM133 335h1v1h-1zM133 334h1v1h-1zM133 333h1v1h-1zM133 332h1v1h-1zM133 331h1v1h-1zM133 330h1v1h-1zM127 321h1v1h-1zM127 320h1v1h-1zM128 323h1v1h-1zM128 322h1v1h-1zM128 321h1v1h-1zM128 320h1v1h-1zM129 321h1v1h-1zM129 320h1v1h-1zM130 321h1v1h-1zM130 320h1v1h-1zM131 321h1v1h-1zM131 320h1v1h-1zM132 321h1v1h-1zM132 320h1v1h-1zM133 321h1v1h-1zM133 320h1v1h-1zM127 309h1v1h-1zM127 308h1v1h-1zM127 307h1v1h-1zM128 310h1v1h-1zM128 309h1v1h-1zM128 308h1v1h-1zM128 307h1v1h-1zM129 311h1v1h-1zM129 310h1v1h-1zM129 308h1v1h-1zM129 307h1v1h-1zM130 312h1v1h-1zM130 311h1v1h-1zM130 308h1v1h-1zM130 307h1v1h-1zM131 312h1v1h-1zM131 311h1v1h-1zM131 310h1v1h-1zM131 309h1v1h-1zM131 308h1v1h-1zM131 307h1v1h-1zM131 306h1v1h-1zM132 308h1v1h-1zM132 307h1v1h-1zM133 308h1v1h-1zM133 307h1v1h-1zM127 299h1v1h-1zM127 298h1v1h-1zM127 297h1v1h-1zM127 296h1v1h-1zM127 295h1v1h-1zM128 300h1v1h-1zM128 299h1v1h-1zM128 295h1v1h-1zM128 294h1v1h-1zM129 300h1v1h-1zM129 299h1v1h-1zM129 295h1v1h-1zM129 294h1v1h-1zM130 300h1v1h-1zM130 299h1v1h-1zM130 295h1v1h-1zM130 294h1v1h-1zM131 300h1v1h-1zM131 299h1v1h-1zM131 295h1v1h-1zM131 294h1v1h-1zM132 300h1v1h-1zM132 299h1v1h-1zM132 295h1v1h-1zM132 294h1v1h-1zM133 299h1v1h-1zM133 298h1v1h-1zM133 297h1v1h-1zM133 296h1v1h-1zM133 295h1v1h-1zM126 289h1v1h-1zM126 288h1v1h-1zM127 290h1v1h-1zM127 289h1v1h-1zM231 332h1v1h-1zM231 331h1v1h-1zM231 330h1v1h-1zM231 329h1v1h-1zM231 328h1v1h-1zM231 327h1v1h-1zM231 326h1v1h-1zM232 332h1v1h-1zM232 331h1v1h-1zM233 332h1v1h-1zM233 331h1v1h-1zM234 332h1v1h-1zM234 331h1v1h-1zM234 330h1v1h-1zM234 329h1v1h-1zM234 328h1v1h-1zM234 327h1v1h-1zM235 332h1v1h-1zM235 331h1v1h-1zM236 332h1v1h-1zM236 331h1v1h-1zM237 332h1v1h-1zM237 331h1v1h-1zM237 330h1v1h-1zM237 329h1v1h-1zM237 328h1v1h-1zM237 327h1v1h-1zM237 326h1v1h-1zM231 318h1v1h-1zM231 317h1v1h-1zM232 320h1v1h-1zM232 319h1v1h-1zM232 318h1v1h-1zM232 317h1v1h-1zM233 318h1v1h-1zM233 317h1v1h-1zM234 318h1v1h-1zM234 317h1v1h-1zM235 318h1v1h-1zM235 317h1v1h-1zM236 318h1v1h-1zM236 317h1v1h-1zM237 318h1v1h-1zM237 317h1v1h-1zM231 306h1v1h-1zM231 305h1v1h-1zM231 304h1v1h-1zM232 307h1v1h-1zM232 306h1v1h-1zM232 305h1v1h-1zM232 304h1v1h-1zM233 308h1v1h-1zM233 307h1v1h-1zM233 305h1v1h-1zM233 304h1v1h-1zM234 309h1v1h-1zM234 308h1v1h-1zM234 305h1v1h-1zM234 304h1v1h-1zM235 309h1v1h-1zM235 308h1v1h-1zM235 307h1v1h-1zM235 306h1v1h-1zM235 305h1v1h-1zM235 304h1v1h-1zM235 303h1v1h-1zM236 305h1v1h-1zM236 304h1v1h-1zM237 305h1v1h-1zM237 304h1v1h-1zM231 294h1v1h-1zM231 293h1v1h-1zM232 296h1v1h-1zM232 295h1v1h-1zM232 294h1v1h-1zM232 293h1v1h-1zM233 294h1v1h-1zM233 293h1v1h-1zM234 294h1v1h-1zM234 293h1v1h-1zM235 294h1v1h-1zM235 293h1v1h-1zM236 294h1v1h-1zM236 293h1v1h-1zM237 294h1v1h-1zM237 293h1v1h-1zM230 286h1v1h-1zM230 285h1v1h-1zM231 287h1v1h-1zM231 286h1v1h-1zM231 285h1v1h-1zM231 284h1v1h-1zM232 286h1v1h-1zM232 285h1v1h-1zM336 662h1v1h-1zM336 661h1v1h-1zM336 660h1v1h-1zM336 659h1v1h-1zM336 658h1v1h-1zM336 657h1v1h-1zM336 656h1v1h-1zM337 662h1v1h-1zM337 661h1v1h-1zM338 662h1v1h-1zM338 661h1v1h-1zM339 662h1v1h-1zM339 661h1v1h-1zM339 660h1v1h-1zM339 659h1v1h-1zM339 658h1v1h-1zM339 657h1v1h-1zM340 662h1v1h-1zM340 661h1v1h-1zM341 662h1v1h-1zM341 661h1v1h-1zM342 662h1v1h-1zM342 661h1v1h-1zM342 660h1v1h-1zM342 659h1v1h-1zM342 658h1v1h-1zM342 657h1v1h-1zM342 656h1v1h-1zM336 648h1v1h-1zM336 647h1v1h-1zM337 650h1v1h-1zM337 649h1v1h-1zM337 648h1v1h-1zM337 647h1v1h-1zM338 648h1v1h-1zM338 647h1v1h-1zM339 648h1v1h-1zM339 647h1v1h-1zM340 648h1v1h-1zM340 647h1v1h-1zM341 648h1v1h-1zM341 647h1v1h-1zM342 648h1v1h-1zM342 647h1v1h-1zM336 636h1v1h-1zM336 635h1v1h-1zM336 634h1v1h-1zM337 637h1v1h-1zM337 636h1v1h-1zM337 635h1v1h-1zM337 634h1v1h-1zM338 638h1v1h-1zM338 637h1v1h-1zM338 635h1v1h-1zM338 634h1v1h-1zM339 639h1v1h-1zM339 638h1v1h-1zM339 635h1v1h-1zM339 634h1v1h-1zM340 639h1v1h-1zM340 638h1v1h-1zM340 637h1v1h-1zM340 636h1v1h-1zM340 635h1v1h-1zM340 634h1v1h-1zM340 633h1v1h-1zM341 635h1v1h-1zM341 634h1v1h-1zM342 635h1v1h-1zM342 634h1v1h-1zM336 626h1v1h-1zM336 625h1v1h-1zM336 624h1v1h-1zM336 623h1v1h-1zM336 622h1v1h-1zM337 627h1v1h-1zM337 626h1v1h-1zM337 622h1v1h-1zM337 621h1v1h-1zM338 622h1v1h-1zM338 621h1v1h-1zM339 624h1v1h-1zM339 623h1v1h-1zM339 622h1v1h-1zM340 626h1v1h-1zM340 625h1v1h-1zM340 624h1v1h-1zM341 627h1v1h-1zM341 626h1v1h-1zM342 627h1v1h-1zM342 626h1v1h-1zM342 625h1v1h-1zM342 624h1v1h-1zM342 623h1v1h-1zM342 622h1v1h-1zM342 621h1v1h-1zM335 616h1v1h-1zM335 615h1v1h-1zM336 617h1v1h-1zM336 616h1v1h-1zM336 615h1v1h-1zM336 614h1v1h-1zM337 616h1v1h-1zM337 615h1v1h-1zM439 658h1v1h-1zM439 657h1v1h-1zM439 656h1v1h-1zM439 655h1v1h-1zM439 654h1v1h-1zM439 653h1v1h-1zM439 652h1v1h-1zM440 658h1v1h-1zM440 657h1v1h-1zM441 658h1v1h-1zM441 657h1v1h-1zM442 658h1v1h-1zM442 657h1v1h-1zM442 656h1v1h-1zM442 655h1v1h-1zM442 654h1v1h-1zM442 653h1v1h-1zM443 658h1v1h-1zM443 657h1v1h-1zM444 658h1v1h-1zM444 657h1v1h-1zM445 658h1v1h-1zM445 657h1v1h-1zM445 656h1v1h-1zM445 655h1v1h-1zM445 654h1v1h-1zM445 653h1v1h-1zM445 652h1v1h-1zM439 644h1v1h-1zM439 643h1v1h-1zM440 646h1v1h-1zM440 645h1v1h-1zM440 644h1v1h-1zM440 643h1v1h-1zM441 644h1v1h-1zM441 643h1v1h-1zM442 644h1v1h-1zM442 643h1v1h-1zM443 644h1v1h-1zM443 643h1v1h-1zM444 644h1v1h-1zM444 643h1v1h-1zM445 644h1v1h-1zM445 643h1v1h-1zM439 632h1v1h-1zM439 631h1v1h-1zM439 630h1v1h-1zM440 633h1v1h-1zM440 632h1v1h-1zM440 631h1v1h-1zM440 630h1v1h-1zM441 634h1v1h-1zM441 633h1v1h-1zM441 631h1v1h-1zM441 630h1v1h-1zM442 635h1v1h-1zM442 634h1v1h-1zM442 631h1v1h-1zM442 630h1v1h-1zM443 635h1v1h-1zM443 634h1v1h-1zM443 633h1v1h-1zM443 632h1v1h-1zM443 631h1v1h-1zM443 630h1v1h-1zM443 629h1v1h-1zM444 631h1v1h-1zM444 630h1v1h-1zM445 631h1v1h-1zM445 630h1v1h-1zM439 622h1v1h-1zM439 621h1v1h-1zM439 620h1v1h-1zM439 619h1v1h-1zM439 618h1v1h-1zM440 623h1v1h-1zM440 622h1v1h-1zM440 618h1v1h-1zM440 617h1v1h-1zM441 618h1v1h-1zM441 617h1v1h-1zM442 621h1v1h-1zM442 620h1v1h-1zM442 619h1v1h-1zM442 618h1v1h-1zM443 618h1v1h-1zM443 617h1v1h-1zM444 623h1v1h-1zM444 622h1v1h-1zM444 618h1v1h-1zM444 617h1v1h-1zM445 622h1v1h-1zM445 621h1v1h-1zM445 620h1v1h-1zM445 619h1v1h-1zM445 618h1v1h-1zM438 612h1v1h-1zM438 611h1v1h-1zM439 613h1v1h-1zM439 612h1v1h-1zM439 611h1v1h-1zM439 610h1v1h-1zM440 612h1v1h-1zM440 611h1v1h-1zM543 658h1v1h-1zM543 657h1v1h-1zM543 656h1v1h-1zM543 655h1v1h-1zM543 654h1v1h-1zM543 653h1v1h-1zM543 652h1v1h-1zM544 658h1v1h-1zM544 657h1v1h-1zM545 658h1v1h-1zM545 657h1v1h-1zM546 658h1v1h-1zM546 657h1v1h-1zM546 656h1v1h-1zM546 655h1v1h-1zM546 654h1v1h-1zM546 653h1v1h-1zM547 658h1v1h-1zM547 657h1v1h-1zM548 658h1v1h-1zM548 657h1v1h-1zM549 658h1v1h-1zM549 657h1v1h-1zM549 656h1v1h-1zM549 655h1v1h-1zM549 654h1v1h-1zM549 653h1v1h-1zM549 652h1v1h-1zM543 644h1v1h-1zM543 643h1v1h-1zM544 646h1v1h-1zM544 645h1v1h-1zM544 644h1v1h-1zM544 643h1v1h-1zM545 644h1v1h-1zM545 643h1v1h-1zM546 644h1v1h-1zM546 643h1v1h-1zM547 644h1v1h-1zM547 643h1v1h-1zM548 644h1v1h-1zM548 643h1v1h-1zM549 644h1v1h-1zM549 643h1v1h-1zM543 632h1v1h-1zM543 631h1v1h-1zM543 630h1v1h-1zM544 633h1v1h-1zM544 632h1v1h-1zM544 631h1v1h-1zM544 630h1v1h-1zM545 634h1v1h-1zM545 633h1v1h-1zM545 631h1v1h-1zM545 630h1v1h-1zM546 635h1v1h-1zM546 634h1v1h-1zM546 631h1v1h-1zM546 630h1v1h-1zM547 635h1v1h-1zM547 634h1v1h-1zM547 633h1v1h-1zM547 632h1v1h-1zM547 631h1v1h-1zM547 630h1v1h-1zM547 629h1v1h-1zM548 631h1v1h-1zM548 630h1v1h-1zM549 631h1v1h-1zM549 630h1v1h-1zM543 620h1v1h-1zM543 619h1v1h-1zM543 618h1v1h-1zM544 621h1v1h-1zM544 620h1v1h-1zM544 619h1v1h-1zM544 618h1v1h-1zM545 622h1v1h-1zM545 621h1v1h-1zM545 619h1v1h-1zM545 618h1v1h-1zM546 623h1v1h-1zM546 622h1v1h-1zM546 619h1v1h-1zM546 618h1v1h-1zM547 623h1v1h-1zM547 622h1v1h-1zM547 621h1v1h-1zM547 620h1v1h-1zM547 619h1v1h-1zM547 618h1v1h-1zM547 617h1v1h-1zM548 619h1v1h-1zM548 618h1v1h-1zM549 619h1v1h-1zM549 618h1v1h-1zM542 612h1v1h-1zM542 611h1v1h-1zM543 613h1v1h-1zM543 612h1v1h-1zM543 611h1v1h-1zM543 610h1v1h-1zM544 612h1v1h-1zM544 611h1v1h-1zM648 546h1v1h-1zM648 545h1v1h-1zM648 544h1v1h-1zM648 543h1v1h-1zM648 542h1v1h-1zM648 541h1v1h-1zM648 540h1v1h-1zM649 546h1v1h-1zM649 545h1v1h-1zM650 546h1v1h-1zM650 545h1v1h-1zM651 546h1v1h-1zM651 545h1v1h-1zM651 544h1v1h-1zM651 543h1v1h-1zM651 542h1v1h-1zM651 541h1v1h-1zM652 546h1v1h-1zM652 545h1v1h-1zM653 546h1v1h-1zM653 545h1v1h-1zM654 546h1v1h-1zM654 545h1v1h-1zM654 544h1v1h-1zM654 543h1v1h-1zM654 542h1v1h-1zM654 541h1v1h-1zM654 540h1v1h-1zM648 531h1v1h-1zM648 530h1v1h-1zM649 533h1v1h-1zM649 532h1v1h-1zM649 531h1v1h-1zM649 530h1v1h-1zM650 531h1v1h-1zM650 530h1v1h-1zM651 531h1v1h-1zM651 530h1v1h-1zM652 531h1v1h-1zM652 530h1v1h-1zM653 531h1v1h-1zM653 530h1v1h-1zM654 531h1v1h-1zM654 530h1v1h-1zM648 522h1v1h-1zM648 521h1v1h-1zM648 520h1v1h-1zM649 523h1v1h-1zM649 522h1v1h-1zM649 521h1v1h-1zM649 520h1v1h-1zM650 524h1v1h-1zM650 523h1v1h-1zM650 521h1v1h-1zM650 520h1v1h-1zM651 525h1v1h-1zM651 524h1v1h-1zM651 521h1v1h-1zM651 520h1v1h-1zM652 525h1v1h-1zM652 524h1v1h-1zM652 523h1v1h-1zM652 522h1v1h-1zM652 521h1v1h-1zM652 520h1v1h-1zM652 519h1v1h-1zM653 521h1v1h-1zM653 520h1v1h-1zM654 521h1v1h-1zM654 520h1v1h-1zM648 515h1v1h-1zM648 514h1v1h-1zM648 513h1v1h-1zM648 512h1v1h-1zM648 511h1v1h-1zM648 510h1v1h-1zM648 509h1v1h-1zM649 515h1v1h-1zM649 514h1v1h-1zM650 515h1v1h-1zM650 514h1v1h-1zM650 513h1v1h-1zM650 512h1v1h-1zM650 511h1v1h-1zM650 510h1v1h-1zM651 510h1v1h-1zM651 509h1v1h-1zM652 510h1v1h-1zM652 509h1v1h-1zM653 515h1v1h-1zM653 514h1v1h-1zM653 510h1v1h-1zM653 509h1v1h-1zM654 514h1v1h-1zM654 513h1v1h-1zM654 512h1v1h-1zM654 511h1v1h-1zM654 510h1v1h-1zM647 504h1v1h-1zM647 503h1v1h-1zM648 505h1v1h-1zM648 504h1v1h-1zM648 503h1v1h-1zM648 502h1v1h-1zM649 504h1v1h-1zM649 503h1v1h-1z" fill="#000"/>
<clipPath id="tc"><rect x="440" y="10" width="200" height="17"/></clipPath>
<rect x="454" y="26" width="463" height="1" fill="#000"/>
<rect x="455" y="65" width="462" height="1" fill="#000"/>
<text transform="translate(705,506) scale(0.92,1)" x="3.26 9.78 16.30 22.83 29.35 35.87 42.39 48.91 55.43 61.96 68.48 75.00 81.52 88.04 94.57 101.09 107.61 114.13 120.65 127.17 133.70 140.22 146.74 153.26 159.78 166.30 172.83" y="0" text-anchor="middle" font-family="Liberation Serif" font-size="13" font-style="normal" font-weight="normal" stroke="#000" stroke-width="0.1" xml:space="preserve">Period of the latest record</text>
<text transform="translate(756,532) scale(0.7,1)" x="4.29 12.86 21.43 30.00 38.57 47.14 55.71" y="0" text-anchor="middle" font-family="Liberation Serif" font-size="14.5" font-style="normal" font-weight="normal" stroke="#000" stroke-width="0" xml:space="preserve">unknown</text>
<text transform="translate(780,545) scale(0.7,1)" x="4.29 12.86 21.43 30.00 38.57" y="0" text-anchor="middle" font-family="Liberation Serif" font-size="14.5" font-style="normal" font-weight="normal" stroke="#000" stroke-width="0" xml:space="preserve">-1900</text>
<text transform="translate(756,558) scale(0.7,1)" x="4.29 12.86 21.43 30.00 38.57 47.14 55.71 64.29 72.86" y="0" text-anchor="middle" font-family="Liberation Serif" font-size="14.5" font-style="normal" font-weight="normal" stroke="#000" stroke-width="0" xml:space="preserve">1901-1940</text>
<text transform="translate(756,571) scale(0.7,1)" x="4.29 12.86 21.43 30.00 38.57 47.14 55.71 64.29 72.86" y="0" text-anchor="middle" font-family="Liberation Serif" font-size="14.5" font-style="normal" font-weight="normal" stroke="#000" stroke-width="0" xml:space="preserve">1941-1960</text>
<text transform="translate(756,584) scale(0.7,1)" x="4.29 12.86 21.43 30.00 38.57 47.14 55.71 64.29 72.86" y="0" text-anchor="middle" font-family="Liberation Serif" font-size="14.5" font-style="normal" font-weight="normal" stroke="#000" stroke-width="0" xml:space="preserve">1961-1980</text>
<text transform="translate(756,597) scale(0.7,1)" x="4.29 12.86 21.43 30.00 38.57 47.14 55.71 64.29 72.86" y="0" text-anchor="middle" font-family="Liberation Serif" font-size="14.5" font-style="normal" font-weight="normal" stroke="#000" stroke-width="0" xml:space="preserve">1981-2000</text>
<text transform="translate(756,610) scale(0.7,1)" x="4.29 12.86 21.43 30.00 38.57 47.14 55.71 64.29 72.86" y="0" text-anchor="middle" font-family="Liberation Serif" font-size="14.5" font-style="normal" font-weight="normal" stroke="#000" stroke-width="0" xml:space="preserve">2001-2020</text>
<g clip-path="url(#tc)">
<text transform="translate(445,26) scale(0.9,1)" x="3.89 11.67 19.44 27.22 35.00 42.78 50.56 58.33 66.11 73.89 81.67 89.44 97.22 105.00 112.78 120.56 128.33 136.11 143.89 151.67" y="0" text-anchor="middle" font-family="Liberation Serif" font-size="13" font-style="italic" font-weight="bold" stroke="#000" stroke-width="0.5" xml:space="preserve">Lycopodium inundatum</text>
</g>
<text transform="translate(697,38) scale(0.8,1)" x="3.75 11.25 18.75 26.25 33.75 41.25 48.75 56.25 63.75 71.25 78.75 86.25 93.75" y="0" text-anchor="middle" font-family="Liberation Mono" font-size="12.5" font-style="normal" font-weight="normal" stroke="#000" stroke-width="0" xml:space="preserve">LYCOPODIACEAE</text>
<rect x="20" y="695" width="2" height="2" fill="#000"/>
<text transform="translate(34,701) scale(0.8,1)" x="3.75 11.25 18.75 26.25 33.75 41.25 48.75 56.25 63.75 71.25 78.75 86.25 93.75 101.25 108.75 116.25 123.75 131.25 138.75 146.25 153.75 161.25 168.75 176.25 183.75 191.25 198.75 206.25 213.75 221.25 228.75 236.25 243.75 251.25 258.75 266.25 273.75 281.25 288.75 296.25 303.75 311.25 318.75 326.25 333.75 341.25 348.75 356.25" y="0" text-anchor="middle" font-family="Liberation Mono" font-size="12.5" font-style="normal" font-weight="normal" stroke="#000" stroke-width="0" xml:space="preserve">Wildlife Research Institute. Copyright reserved.</text>
<text transform="translate(882,676) scale(0.8,1)" x="3.88 11.62 19.38 27.13 34.88 42.62" y="0" text-anchor="middle" font-family="Liberation Serif" font-size="12.5" font-style="italic" font-weight="normal" stroke="#000" stroke-width="0" xml:space="preserve">204100</text>
<text transform="translate(873,688) scale(0.74,1)" x="4.05 12.16 20.27 28.38 36.49 44.59 52.70 60.81" y="0" text-anchor="middle" font-family="Liberation Serif" font-size="13" font-style="normal" font-weight="normal" stroke="#000" stroke-width="0" xml:space="preserve">2006/2/7</text>
<path d="M458 57h12v1h-12zM464 56h6v1h-6zM468 58h2v1h-2zM467 59h2v1h-2zM466 60h2v1h-2zM461 54h2v4h-2zM462 58h2v4h-2zM463 62h2v3h-2zM478 55h5v1h-5zM476 56h3v1h-3zM472 59h12v1h-12zM477 56h2v6h-2zM476 62h2v1h-2zM475 63h2v1h-2zM473 64h3v1h-3zM485 55h8v1h-8zM492 56h2v1h-2zM491 57h2v1h-2zM490 58h2v1h-2zM489 59h2v1h-2zM488 60h2v1h-2zM487 61h2v1h-2zM486 62h2v1h-2zM485 63h2v1h-2zM484 64h2v1h-2zM489 60h2v1h-2zM490 61h2v1h-2zM491 62h2v1h-2zM492 63h2v1h-2zM493 64h2v1h-2zM498 57h10v1h-10zM497 60h12v1h-12zM503 54h2v11h-2zM505 55h4v1h-4zM512 55h9v1h-9zM511 58h10v1h-10zM519 59h2v2h-2zM518 61h2v1h-2zM517 62h2v1h-2zM515 63h3v1h-3zM513 64h3v1h-3zM524 55h2v1h-2zM526 56h2v1h-2zM532 57h2v2h-2zM531 59h2v1h-2zM530 60h2v1h-2zM529 61h2v1h-2zM528 62h2v1h-2zM526 63h3v1h-3zM524 64h3v1h-3z" fill="#000"/>
<path d="M707.5,68V77.5H715 M708,70.5L715,69.5 M719,69.5H727.5V76.5Q727.5,77.5 724,77.5 M721.5,67Q721,74 718,77.5 M732,68L729,72 M731,70.5H739 M736,70.5Q735,75 731,77.5 M739.5,67V68.5 M741,67V68.5 M749,68Q747,74 742,77.5 M754.5,69.5H763V76.5Q763,77.5 759.5,77.5 M757,67Q756.5,74 753.5,77.5 M766,69.5H773L765,77.5 M770,73L775.5,77.5 M774.5,67L775.5,69 M776.5,67L777.5,69 M779,68.5H786 M778,71.5H787Q786,75.5 780,77.5 M793,67.5L789.5,69 M789,71.5H794 M792,68V78 M792,72L789,76 M792,72L794,74 M795,68.5L796,69.5 M795,70.5L796,71.5 M794.5,73.5H800 M797.5,67V78" stroke="#000" stroke-width="1" fill="none" shape-rendering="crispEdges"/>
<path transform="translate(824,639)" d="M5.5,0V2 M0,2.5H11 M1.5,5V10 M1,4.5H10 M9.5,4.5V9L8.5,9.5 M5.5,2.5V11" stroke="#000" stroke-width="1.0" fill="none" stroke-linecap="square" stroke-linejoin="miter" shape-rendering="crispEdges"/>
<path transform="translate(836,639)" d="M0.5,2.5V9.5 M0.5,2.5H5 M4.5,2.5V9 M0.5,5.5H4.5 M0.5,8.5H4.5 M2.5,2.5V8.5 M5.5,2.5H11 M8.5,2.5V10.5L7,10.5" stroke="#000" stroke-width="1.0" fill="none" stroke-linecap="square" stroke-linejoin="miter" shape-rendering="crispEdges"/>
<path transform="translate(848,639)" d="M2.5,0V11 M0,3.5H5 M2.5,4L0,8 M2.5,4L5,7 M5,3.5H11 M9.5,0V10.5L8,10.5 M6.5,6L7.5,7" stroke="#000" stroke-width="1.0" fill="none" stroke-linecap="square" stroke-linejoin="miter" shape-rendering="crispEdges"/>
<path transform="translate(860,639)" d="M9,0.5L2,1.5 M0.5,3.5H11 M5.5,1.5V5.5 M5,4L1,6 M6,4L10,6 M2.5,6.5H8.5V10.5H2.5Z M2.5,8.5H8.5 M5.5,6.5V10.5" stroke="#000" stroke-width="1.0" fill="none" stroke-linecap="square" stroke-linejoin="miter" shape-rendering="crispEdges"/>
<path transform="translate(872,639)" d="M1.5,0.5H9.5V3.5H1.5Z M0,5.5H11 M3,5.5L2.5,7.5H9.5V10L7.5,10.5" stroke="#000" stroke-width="1.0" fill="none" stroke-linecap="square" stroke-linejoin="miter" shape-rendering="crispEdges"/>
<path transform="translate(884,639)" d="M5.5,0V1 M0,1.5H11 M3.5,2V5 M7.5,2V5 M2,3L1,5 M9,3L10,5 M2,6.5H9L2,11 M4,8L10,11" stroke="#000" stroke-width="1.0" fill="none" stroke-linecap="square" stroke-linejoin="miter" shape-rendering="crispEdges"/>
<path transform="translate(896,639)" d="M0,3.5H4 M2.5,0V10.5L1.5,10.5 M0,8L4,6 M6,0.5L5,2 M5.5,1.5H9L8,3 M4.5,3.5H10.5V7.5H4.5Z M7.5,3.5V7.5 M4,8.5H11 M7.5,7.5L5,11 M7.5,8.5L11,11" stroke="#000" stroke-width="1.0" fill="none" stroke-linecap="square" stroke-linejoin="miter" shape-rendering="crispEdges"/>
<path transform="translate(908,639)" d="M0.5,1L1.5,2 M0,4L1,5 M2,7L0,11 M6.5,0V1 M3,1.5H11 M4,2.5L10,5 M10,2.5L4,5 M4.5,6V11 M9.5,6V11 M4.5,6.5H9.5 M4.5,8.5H9.5" stroke="#000" stroke-width="1.0" fill="none" stroke-linecap="square" stroke-linejoin="miter" shape-rendering="crispEdges"/>
<path transform="translate(872,652)" d="M4,0.5L0.5,1.5 M0,3.5H5 M2.5,1.5V11 M2.5,4L0,8 M2.5,4L4.5,6 M10,0.5L5.5,1.5 M5,2.5H11 M5.5,4.5H10.5V8.5H5.5Z M5.5,6.5H10.5 M8,1.5V10.5 M5,10.5H11" stroke="#000" stroke-width="1.0" fill="none" stroke-linecap="square" stroke-linejoin="miter" shape-rendering="crispEdges"/>
<path transform="translate(884,652)" d="M2.5,0L1,3L3.5,4.5L1,7.5H4.5 M2.5,7.5V11 M1,9L0.5,10.5 M4,9L4.5,10 M7.5,0V1.5 M5,1.5H11 M7,2L5.5,4.5H10 M9,3L10,4.5 M7,5Q7,9 5,11 M9,5V10.5H11" stroke="#000" stroke-width="1.0" fill="none" stroke-linecap="square" stroke-linejoin="miter" shape-rendering="crispEdges"/>
<path transform="translate(896,652)" d="M5.5,0.5L0,5 M5.5,0.5L11,5 M3,5.5H8 M2.5,7.5V11 M2.5,7.5H8.5V11 M2.5,10.5H8.5" stroke="#000" stroke-width="1.0" fill="none" stroke-linecap="square" stroke-linejoin="miter" shape-rendering="crispEdges"/>
<path transform="translate(908,652)" d="M0.5,1L1.5,2 M0,4L1,5 M2,7L0,11 M6.5,0V1 M3,1.5H11 M4,2.5L10,5 M10,2.5L4,5 M4.5,6V11 M9.5,6V11 M4.5,6.5H9.5 M4.5,8.5H9.5" stroke="#000" stroke-width="1.0" fill="none" stroke-linecap="square" stroke-linejoin="miter" shape-rendering="crispEdges"/>
</svg>
</body></html>
